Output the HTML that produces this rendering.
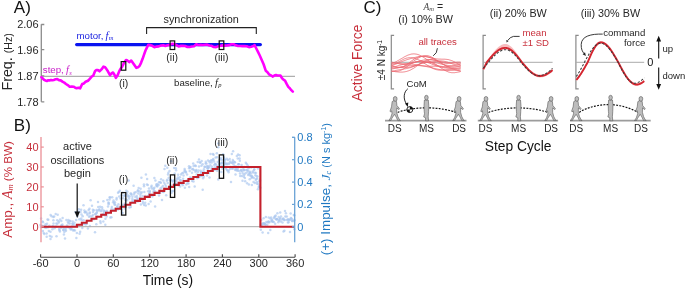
<!DOCTYPE html>
<html><head><meta charset="utf-8"><style>
html,body{margin:0;padding:0;background:#fff;width:685px;height:289px;overflow:hidden}
#w{width:685px;height:289px;will-change:transform}
svg{display:block}
text{font-family:"Liberation Sans",sans-serif}
</style></head><body><div id="w">
<svg width="685" height="289" viewBox="0 0 685 289">
<text x="13.8" y="12.95" font-size="17" fill="#111">A)</text>
<path d="M41.3,24.3 V101.8 M41.3,24.5 H44.3 M41.3,49.7 H44.3 M41.3,75.8 H44.3 M41.3,101.8 H44.3" stroke="#8c8c8c" stroke-width="1.3" fill="none"/>
<text x="38.6" y="28.3" font-size="11" fill="#262626" text-anchor="end">2.06</text>
<text x="38.6" y="53.5" font-size="11" fill="#262626" text-anchor="end">1.96</text>
<text x="38.6" y="79.6" font-size="11" fill="#262626" text-anchor="end">1.87</text>
<text x="38.6" y="105.6" font-size="11" fill="#262626" text-anchor="end">1.78</text>
<text transform="translate(11.8,90.6) rotate(-90)" font-size="14.3" fill="#262626">Freq. <tspan font-size="10.6">(Hz)</tspan></text>
<line x1="41.5" y1="76.3" x2="295" y2="76.3" stroke="#9a9a9a" stroke-width="1"/>
<line x1="76.6" y1="44.6" x2="260.4" y2="44.6" stroke="#0a14f0" stroke-width="3.1" stroke-linecap="round"/>
<text x="76.5" y="38.8" font-size="9.7" fill="#1a22e0">motor,<tspan font-family="Liberation Serif, serif" font-style="italic" font-size="10.5" dx="2.2">f</tspan><tspan font-family="Liberation Serif, serif" font-style="italic" font-size="6.5" dy="1.2" dx="0.3">m</tspan></text>
<text x="201.2" y="23.1" font-size="10.85" fill="#262626" text-anchor="middle">synchronization</text>
<path d="M146.6,34 V27.6 H256.3 V34" stroke="#222" stroke-width="1.1" fill="none"/>
<path d="M41.40,77.10 L42.75,78.50 L44.10,79.92 L45.50,80.53 L46.90,81.01 L48.30,80.18 L49.70,80.37 L51.10,80.08 L52.45,80.25 L53.80,79.95 L55.55,79.32 L57.30,79.10 L59.00,80.12 L60.70,80.38 L62.45,81.65 L64.20,82.54 L65.95,84.01 L67.70,85.10 L69.70,86.71 L71.80,86.55 L73.90,86.71 L75.25,87.78 L76.60,88.24 L78.35,87.74 L80.10,88.39 L82.20,84.05 L83.90,83.41 L85.60,81.74 L86.80,81.24 L88.00,80.74 L89.30,79.37 L90.60,77.93 L91.85,76.42 L93.10,75.90 L95.10,70.98 L96.30,70.15 L97.90,70.03 L99.50,71.28 L101.50,69.38 L103.40,66.68 L104.70,66.97 L106.00,68.38 L107.90,71.30 L110.00,75.03 L111.50,73.32 L113.00,72.51 L114.45,74.74 L115.90,77.85 L117.60,75.33 L119.60,70.37 L120.80,68.60 L122.00,66.91 L124.00,62.82 L126.00,60.07 L127.50,60.59 L129.20,62.16 L131.20,60.52 L133.50,63.69 L134.90,65.75 L136.30,67.85 L138.00,67.17 L139.50,66.04 L141.05,62.82 L142.60,58.84 L144.05,54.60 L145.50,50.50 L146.90,47.65 L148.30,44.80 L150.00,45.04 L152.20,45.81 L154.40,47.16 L156.60,46.61 L158.80,46.38 L161.00,45.58 L163.20,45.24 L165.40,45.93 L167.60,45.28 L169.80,44.90 L172.00,43.85 L174.20,44.00 L176.40,45.22 L178.60,46.45 L180.80,45.88 L183.00,45.68 L185.20,46.08 L187.40,46.92 L189.60,47.04 L191.80,46.59 L194.00,46.18 L196.20,44.35 L198.40,45.03 L200.60,44.92 L202.80,45.06 L205.00,44.78 L207.20,44.65 L209.40,45.47 L211.60,45.81 L213.80,47.06 L216.00,47.14 L218.20,46.20 L220.40,45.82 L222.60,45.36 L224.80,45.60 L227.00,45.50 L229.20,45.15 L231.40,44.19 L233.60,44.22 L235.80,45.36 L238.00,46.00 L240.20,45.95 L242.40,46.16 L244.60,46.12 L246.80,46.26 L249.00,47.10 L251.20,46.76 L253.40,46.12 L254.60,45.10 L256.30,48.50 L258.00,51.90 L259.65,55.25 L261.30,58.97 L263.60,64.27 L265.80,70.80 L267.50,72.21 L269.20,74.53 L270.90,75.31 L272.60,76.57 L274.30,75.60 L276.00,75.12 L277.47,75.51 L278.93,75.43 L280.40,75.52 L281.93,78.04 L283.47,79.67 L285.00,80.57 L286.65,83.91 L288.30,86.87 L289.80,88.25 L291.30,90.18 L292.80,91.60" stroke="#ff00ff" stroke-width="2.6" fill="none" stroke-linejoin="round" stroke-linecap="round"/>
<text x="42.8" y="73.3" font-size="9.7" fill="#c81ec8">step,<tspan font-family="Liberation Serif, serif" font-style="italic" font-size="10.5" dx="2.2">f</tspan><tspan font-family="Liberation Serif, serif" font-style="italic" font-size="6.5" dy="1.2" dx="0.3">s</tspan></text>
<text x="174" y="86.2" font-size="9.7" fill="#262626">baseline,<tspan font-family="Liberation Serif, serif" font-style="italic" font-size="10.5" dx="2.2">f</tspan><tspan font-family="Liberation Serif, serif" font-style="italic" font-size="6.5" dy="1.2" dx="0.3">p</tspan></text>
<rect x="121.2" y="61.6" width="4.6" height="8.6" fill="none" stroke="#111" stroke-width="1.2"/>
<rect x="170.1" y="40.9" width="4.6" height="8.6" fill="none" stroke="#111" stroke-width="1.2"/>
<rect x="219.2" y="40.9" width="4.6" height="8.6" fill="none" stroke="#111" stroke-width="1.2"/>
<text x="123.6" y="87.2" font-size="10.5" fill="#262626" text-anchor="middle">(i)</text>
<text x="172.2" y="61.2" font-size="10.5" fill="#262626" text-anchor="middle">(ii)</text>
<text x="221.5" y="61.2" font-size="10.5" fill="#262626" text-anchor="middle">(iii)</text>
<text x="13.8" y="130.7" font-size="17" fill="#111">B)</text>
<g fill="#a9c5ef" fill-opacity="0.66">
<circle cx="40.5" cy="225.1" r="1.25"/>
<circle cx="41.1" cy="218.6" r="1.25"/>
<circle cx="40.9" cy="227.0" r="1.25"/>
<circle cx="42.1" cy="227.0" r="1.25"/>
<circle cx="42.6" cy="225.8" r="1.25"/>
<circle cx="42.5" cy="221.5" r="1.25"/>
<circle cx="43.0" cy="222.3" r="1.25"/>
<circle cx="42.9" cy="231.0" r="1.25"/>
<circle cx="43.7" cy="233.0" r="1.25"/>
<circle cx="44.3" cy="234.0" r="1.25"/>
<circle cx="44.7" cy="226.5" r="1.25"/>
<circle cx="44.9" cy="227.4" r="1.25"/>
<circle cx="45.5" cy="226.0" r="1.25"/>
<circle cx="45.5" cy="224.3" r="1.25"/>
<circle cx="46.1" cy="227.8" r="1.25"/>
<circle cx="46.7" cy="236.8" r="1.25"/>
<circle cx="46.6" cy="233.5" r="1.25"/>
<circle cx="47.5" cy="219.4" r="1.25"/>
<circle cx="47.0" cy="223.8" r="1.25"/>
<circle cx="47.5" cy="227.3" r="1.25"/>
<circle cx="48.3" cy="219.8" r="1.25"/>
<circle cx="48.3" cy="226.9" r="1.25"/>
<circle cx="48.8" cy="231.1" r="1.25"/>
<circle cx="49.4" cy="225.8" r="1.25"/>
<circle cx="49.8" cy="236.0" r="1.25"/>
<circle cx="50.5" cy="231.7" r="1.25"/>
<circle cx="50.6" cy="215.0" r="1.25"/>
<circle cx="50.5" cy="239.0" r="1.25"/>
<circle cx="51.6" cy="216.3" r="1.25"/>
<circle cx="51.6" cy="236.7" r="1.25"/>
<circle cx="52.3" cy="226.5" r="1.25"/>
<circle cx="52.4" cy="229.3" r="1.25"/>
<circle cx="53.0" cy="226.0" r="1.25"/>
<circle cx="53.5" cy="223.6" r="1.25"/>
<circle cx="53.3" cy="217.1" r="1.25"/>
<circle cx="53.4" cy="220.3" r="1.25"/>
<circle cx="54.5" cy="228.2" r="1.25"/>
<circle cx="54.1" cy="216.4" r="1.25"/>
<circle cx="55.1" cy="226.9" r="1.25"/>
<circle cx="55.1" cy="226.7" r="1.25"/>
<circle cx="55.7" cy="214.1" r="1.25"/>
<circle cx="56.5" cy="236.2" r="1.25"/>
<circle cx="56.5" cy="226.4" r="1.25"/>
<circle cx="56.3" cy="223.5" r="1.25"/>
<circle cx="57.3" cy="223.7" r="1.25"/>
<circle cx="57.2" cy="220.2" r="1.25"/>
<circle cx="57.7" cy="214.8" r="1.25"/>
<circle cx="58.8" cy="222.6" r="1.25"/>
<circle cx="58.6" cy="221.3" r="1.25"/>
<circle cx="59.1" cy="228.9" r="1.25"/>
<circle cx="59.5" cy="230.2" r="1.25"/>
<circle cx="59.9" cy="231.5" r="1.25"/>
<circle cx="60.1" cy="219.4" r="1.25"/>
<circle cx="60.8" cy="228.0" r="1.25"/>
<circle cx="61.4" cy="225.2" r="1.25"/>
<circle cx="61.3" cy="220.9" r="1.25"/>
<circle cx="61.6" cy="226.4" r="1.25"/>
<circle cx="62.1" cy="225.8" r="1.25"/>
<circle cx="62.6" cy="217.9" r="1.25"/>
<circle cx="62.4" cy="224.6" r="1.25"/>
<circle cx="63.4" cy="229.9" r="1.25"/>
<circle cx="63.4" cy="230.1" r="1.25"/>
<circle cx="63.5" cy="228.0" r="1.25"/>
<circle cx="63.9" cy="234.4" r="1.25"/>
<circle cx="64.4" cy="232.0" r="1.25"/>
<circle cx="65.0" cy="238.4" r="1.25"/>
<circle cx="65.3" cy="229.7" r="1.25"/>
<circle cx="65.6" cy="228.3" r="1.25"/>
<circle cx="66.0" cy="230.7" r="1.25"/>
<circle cx="66.4" cy="220.1" r="1.25"/>
<circle cx="67.0" cy="225.4" r="1.25"/>
<circle cx="67.6" cy="226.9" r="1.25"/>
<circle cx="68.0" cy="227.0" r="1.25"/>
<circle cx="67.8" cy="221.9" r="1.25"/>
<circle cx="68.6" cy="223.3" r="1.25"/>
<circle cx="68.4" cy="220.1" r="1.25"/>
<circle cx="69.5" cy="227.8" r="1.25"/>
<circle cx="69.5" cy="221.1" r="1.25"/>
<circle cx="69.8" cy="223.5" r="1.25"/>
<circle cx="70.5" cy="228.3" r="1.25"/>
<circle cx="70.4" cy="221.0" r="1.25"/>
<circle cx="70.7" cy="229.6" r="1.25"/>
<circle cx="71.8" cy="229.2" r="1.25"/>
<circle cx="72.2" cy="226.3" r="1.25"/>
<circle cx="72.5" cy="223.8" r="1.25"/>
<circle cx="72.7" cy="221.5" r="1.25"/>
<circle cx="72.6" cy="223.8" r="1.25"/>
<circle cx="73.1" cy="230.4" r="1.25"/>
<circle cx="73.6" cy="224.4" r="1.25"/>
<circle cx="74.0" cy="229.9" r="1.25"/>
<circle cx="74.9" cy="230.6" r="1.25"/>
<circle cx="74.5" cy="222.8" r="1.25"/>
<circle cx="75.6" cy="212.2" r="1.25"/>
<circle cx="76.1" cy="225.2" r="1.25"/>
<circle cx="76.4" cy="238.1" r="1.25"/>
<circle cx="76.1" cy="220.1" r="1.25"/>
<circle cx="76.9" cy="225.9" r="1.25"/>
<circle cx="76.9" cy="233.0" r="1.25"/>
<circle cx="77.2" cy="212.5" r="1.25"/>
<circle cx="77.4" cy="216.2" r="1.25"/>
<circle cx="78.6" cy="211.8" r="1.25"/>
<circle cx="78.7" cy="226.1" r="1.25"/>
<circle cx="78.8" cy="209.2" r="1.25"/>
<circle cx="79.4" cy="219.3" r="1.25"/>
<circle cx="79.6" cy="233.8" r="1.25"/>
<circle cx="80.5" cy="212.1" r="1.25"/>
<circle cx="80.2" cy="231.8" r="1.25"/>
<circle cx="81.2" cy="218.6" r="1.25"/>
<circle cx="81.5" cy="214.6" r="1.25"/>
<circle cx="81.1" cy="209.8" r="1.25"/>
<circle cx="81.7" cy="220.3" r="1.25"/>
<circle cx="82.3" cy="227.9" r="1.25"/>
<circle cx="82.3" cy="224.7" r="1.25"/>
<circle cx="82.7" cy="216.3" r="1.25"/>
<circle cx="83.5" cy="205.3" r="1.25"/>
<circle cx="83.7" cy="220.3" r="1.25"/>
<circle cx="84.1" cy="224.0" r="1.25"/>
<circle cx="84.4" cy="210.5" r="1.25"/>
<circle cx="84.9" cy="212.2" r="1.25"/>
<circle cx="85.0" cy="212.3" r="1.25"/>
<circle cx="85.6" cy="224.6" r="1.25"/>
<circle cx="86.2" cy="211.7" r="1.25"/>
<circle cx="86.7" cy="224.1" r="1.25"/>
<circle cx="87.0" cy="213.6" r="1.25"/>
<circle cx="87.4" cy="221.1" r="1.25"/>
<circle cx="87.5" cy="215.0" r="1.25"/>
<circle cx="87.9" cy="228.6" r="1.25"/>
<circle cx="88.6" cy="210.1" r="1.25"/>
<circle cx="89.0" cy="216.8" r="1.25"/>
<circle cx="89.5" cy="208.8" r="1.25"/>
<circle cx="89.5" cy="213.6" r="1.25"/>
<circle cx="89.9" cy="225.9" r="1.25"/>
<circle cx="89.8" cy="212.5" r="1.25"/>
<circle cx="90.2" cy="216.2" r="1.25"/>
<circle cx="90.6" cy="200.3" r="1.25"/>
<circle cx="91.5" cy="219.1" r="1.25"/>
<circle cx="92.0" cy="205.8" r="1.25"/>
<circle cx="92.1" cy="216.3" r="1.25"/>
<circle cx="92.9" cy="215.0" r="1.25"/>
<circle cx="92.9" cy="209.7" r="1.25"/>
<circle cx="93.0" cy="211.9" r="1.25"/>
<circle cx="93.9" cy="218.7" r="1.25"/>
<circle cx="93.8" cy="219.3" r="1.25"/>
<circle cx="93.9" cy="210.3" r="1.25"/>
<circle cx="95.0" cy="232.3" r="1.25"/>
<circle cx="95.3" cy="214.3" r="1.25"/>
<circle cx="95.5" cy="213.9" r="1.25"/>
<circle cx="96.3" cy="224.3" r="1.25"/>
<circle cx="96.7" cy="212.5" r="1.25"/>
<circle cx="96.6" cy="209.9" r="1.25"/>
<circle cx="96.7" cy="213.1" r="1.25"/>
<circle cx="97.2" cy="216.5" r="1.25"/>
<circle cx="97.5" cy="211.1" r="1.25"/>
<circle cx="98.0" cy="202.1" r="1.25"/>
<circle cx="98.2" cy="206.9" r="1.25"/>
<circle cx="98.8" cy="210.1" r="1.25"/>
<circle cx="99.5" cy="209.3" r="1.25"/>
<circle cx="100.1" cy="206.7" r="1.25"/>
<circle cx="100.3" cy="221.3" r="1.25"/>
<circle cx="100.4" cy="211.1" r="1.25"/>
<circle cx="100.6" cy="222.9" r="1.25"/>
<circle cx="101.6" cy="211.0" r="1.25"/>
<circle cx="101.7" cy="215.0" r="1.25"/>
<circle cx="102.3" cy="209.3" r="1.25"/>
<circle cx="102.0" cy="207.3" r="1.25"/>
<circle cx="102.8" cy="214.3" r="1.25"/>
<circle cx="103.4" cy="201.2" r="1.25"/>
<circle cx="103.3" cy="221.4" r="1.25"/>
<circle cx="104.1" cy="210.7" r="1.25"/>
<circle cx="104.0" cy="213.1" r="1.25"/>
<circle cx="104.4" cy="211.3" r="1.25"/>
<circle cx="104.6" cy="215.2" r="1.25"/>
<circle cx="105.3" cy="224.7" r="1.25"/>
<circle cx="105.4" cy="218.8" r="1.25"/>
<circle cx="106.4" cy="212.0" r="1.25"/>
<circle cx="106.8" cy="211.1" r="1.25"/>
<circle cx="106.6" cy="216.4" r="1.25"/>
<circle cx="107.3" cy="200.1" r="1.25"/>
<circle cx="108.0" cy="206.5" r="1.25"/>
<circle cx="107.9" cy="213.2" r="1.25"/>
<circle cx="108.5" cy="202.4" r="1.25"/>
<circle cx="108.7" cy="203.2" r="1.25"/>
<circle cx="108.7" cy="204.3" r="1.25"/>
<circle cx="109.5" cy="199.5" r="1.25"/>
<circle cx="109.6" cy="197.2" r="1.25"/>
<circle cx="110.2" cy="197.5" r="1.25"/>
<circle cx="110.3" cy="217.4" r="1.25"/>
<circle cx="110.5" cy="211.6" r="1.25"/>
<circle cx="111.5" cy="208.7" r="1.25"/>
<circle cx="111.4" cy="217.3" r="1.25"/>
<circle cx="111.8" cy="206.9" r="1.25"/>
<circle cx="112.2" cy="197.2" r="1.25"/>
<circle cx="113.0" cy="209.7" r="1.25"/>
<circle cx="113.5" cy="200.4" r="1.25"/>
<circle cx="113.1" cy="202.3" r="1.25"/>
<circle cx="114.1" cy="202.9" r="1.25"/>
<circle cx="114.5" cy="204.6" r="1.25"/>
<circle cx="114.9" cy="202.3" r="1.25"/>
<circle cx="114.7" cy="209.5" r="1.25"/>
<circle cx="115.5" cy="208.4" r="1.25"/>
<circle cx="115.3" cy="204.8" r="1.25"/>
<circle cx="116.5" cy="199.5" r="1.25"/>
<circle cx="116.6" cy="198.1" r="1.25"/>
<circle cx="117.4" cy="206.4" r="1.25"/>
<circle cx="117.3" cy="206.5" r="1.25"/>
<circle cx="117.9" cy="209.5" r="1.25"/>
<circle cx="118.0" cy="192.8" r="1.25"/>
<circle cx="118.4" cy="204.2" r="1.25"/>
<circle cx="118.9" cy="192.0" r="1.25"/>
<circle cx="119.2" cy="196.6" r="1.25"/>
<circle cx="119.8" cy="190.7" r="1.25"/>
<circle cx="119.5" cy="207.9" r="1.25"/>
<circle cx="120.3" cy="207.4" r="1.25"/>
<circle cx="120.5" cy="198.6" r="1.25"/>
<circle cx="121.4" cy="195.3" r="1.25"/>
<circle cx="121.8" cy="209.8" r="1.25"/>
<circle cx="122.1" cy="204.7" r="1.25"/>
<circle cx="122.5" cy="213.1" r="1.25"/>
<circle cx="122.1" cy="212.7" r="1.25"/>
<circle cx="122.6" cy="192.7" r="1.25"/>
<circle cx="123.3" cy="198.2" r="1.25"/>
<circle cx="123.8" cy="195.7" r="1.25"/>
<circle cx="123.9" cy="204.9" r="1.25"/>
<circle cx="124.8" cy="195.3" r="1.25"/>
<circle cx="124.8" cy="203.5" r="1.25"/>
<circle cx="124.9" cy="208.6" r="1.25"/>
<circle cx="125.2" cy="195.8" r="1.25"/>
<circle cx="125.6" cy="200.3" r="1.25"/>
<circle cx="126.0" cy="199.3" r="1.25"/>
<circle cx="126.3" cy="190.8" r="1.25"/>
<circle cx="126.9" cy="193.7" r="1.25"/>
<circle cx="127.0" cy="200.2" r="1.25"/>
<circle cx="127.5" cy="191.7" r="1.25"/>
<circle cx="128.1" cy="196.5" r="1.25"/>
<circle cx="128.2" cy="195.6" r="1.25"/>
<circle cx="128.7" cy="180.5" r="1.25"/>
<circle cx="129.1" cy="198.6" r="1.25"/>
<circle cx="129.4" cy="207.6" r="1.25"/>
<circle cx="129.6" cy="196.6" r="1.25"/>
<circle cx="130.9" cy="207.0" r="1.25"/>
<circle cx="130.5" cy="193.5" r="1.25"/>
<circle cx="131.3" cy="193.7" r="1.25"/>
<circle cx="131.5" cy="194.7" r="1.25"/>
<circle cx="132.3" cy="201.0" r="1.25"/>
<circle cx="132.4" cy="196.7" r="1.25"/>
<circle cx="132.3" cy="199.0" r="1.25"/>
<circle cx="132.9" cy="201.9" r="1.25"/>
<circle cx="133.6" cy="185.8" r="1.25"/>
<circle cx="134.0" cy="194.6" r="1.25"/>
<circle cx="134.2" cy="200.2" r="1.25"/>
<circle cx="134.3" cy="192.7" r="1.25"/>
<circle cx="134.9" cy="201.3" r="1.25"/>
<circle cx="135.4" cy="196.9" r="1.25"/>
<circle cx="135.6" cy="192.3" r="1.25"/>
<circle cx="135.6" cy="200.2" r="1.25"/>
<circle cx="136.7" cy="196.1" r="1.25"/>
<circle cx="137.2" cy="197.7" r="1.25"/>
<circle cx="137.6" cy="199.1" r="1.25"/>
<circle cx="137.8" cy="191.3" r="1.25"/>
<circle cx="137.8" cy="201.6" r="1.25"/>
<circle cx="137.9" cy="190.3" r="1.25"/>
<circle cx="138.3" cy="193.4" r="1.25"/>
<circle cx="138.6" cy="187.9" r="1.25"/>
<circle cx="139.6" cy="191.6" r="1.25"/>
<circle cx="140.3" cy="197.2" r="1.25"/>
<circle cx="140.3" cy="194.9" r="1.25"/>
<circle cx="140.9" cy="204.6" r="1.25"/>
<circle cx="140.6" cy="188.7" r="1.25"/>
<circle cx="140.9" cy="193.2" r="1.25"/>
<circle cx="141.4" cy="177.8" r="1.25"/>
<circle cx="141.8" cy="192.2" r="1.25"/>
<circle cx="142.6" cy="196.1" r="1.25"/>
<circle cx="142.7" cy="201.5" r="1.25"/>
<circle cx="143.1" cy="203.2" r="1.25"/>
<circle cx="143.9" cy="184.6" r="1.25"/>
<circle cx="144.0" cy="186.2" r="1.25"/>
<circle cx="144.2" cy="204.9" r="1.25"/>
<circle cx="144.3" cy="192.0" r="1.25"/>
<circle cx="145.2" cy="202.7" r="1.25"/>
<circle cx="145.2" cy="195.9" r="1.25"/>
<circle cx="145.8" cy="205.5" r="1.25"/>
<circle cx="145.9" cy="174.5" r="1.25"/>
<circle cx="146.9" cy="184.5" r="1.25"/>
<circle cx="147.1" cy="179.0" r="1.25"/>
<circle cx="147.8" cy="184.9" r="1.25"/>
<circle cx="148.2" cy="195.9" r="1.25"/>
<circle cx="148.6" cy="203.9" r="1.25"/>
<circle cx="148.2" cy="191.2" r="1.25"/>
<circle cx="149.0" cy="188.5" r="1.25"/>
<circle cx="149.2" cy="194.1" r="1.25"/>
<circle cx="149.4" cy="193.6" r="1.25"/>
<circle cx="149.8" cy="191.9" r="1.25"/>
<circle cx="149.9" cy="190.9" r="1.25"/>
<circle cx="150.6" cy="201.5" r="1.25"/>
<circle cx="151.3" cy="187.0" r="1.25"/>
<circle cx="151.9" cy="188.6" r="1.25"/>
<circle cx="151.6" cy="185.8" r="1.25"/>
<circle cx="152.2" cy="194.9" r="1.25"/>
<circle cx="152.4" cy="196.5" r="1.25"/>
<circle cx="153.3" cy="192.0" r="1.25"/>
<circle cx="153.6" cy="188.4" r="1.25"/>
<circle cx="153.7" cy="189.9" r="1.25"/>
<circle cx="154.4" cy="187.8" r="1.25"/>
<circle cx="154.9" cy="191.3" r="1.25"/>
<circle cx="154.4" cy="178.0" r="1.25"/>
<circle cx="155.1" cy="206.6" r="1.25"/>
<circle cx="155.4" cy="180.4" r="1.25"/>
<circle cx="156.3" cy="185.7" r="1.25"/>
<circle cx="156.5" cy="184.2" r="1.25"/>
<circle cx="157.1" cy="185.8" r="1.25"/>
<circle cx="157.3" cy="186.6" r="1.25"/>
<circle cx="157.5" cy="193.1" r="1.25"/>
<circle cx="157.5" cy="184.3" r="1.25"/>
<circle cx="158.6" cy="184.9" r="1.25"/>
<circle cx="159.0" cy="182.2" r="1.25"/>
<circle cx="159.1" cy="192.6" r="1.25"/>
<circle cx="159.0" cy="195.4" r="1.25"/>
<circle cx="160.2" cy="182.3" r="1.25"/>
<circle cx="160.1" cy="193.0" r="1.25"/>
<circle cx="160.4" cy="188.4" r="1.25"/>
<circle cx="160.9" cy="182.7" r="1.25"/>
<circle cx="161.6" cy="187.4" r="1.25"/>
<circle cx="161.1" cy="179.2" r="1.25"/>
<circle cx="162.0" cy="200.1" r="1.25"/>
<circle cx="162.8" cy="191.8" r="1.25"/>
<circle cx="162.9" cy="186.0" r="1.25"/>
<circle cx="163.6" cy="192.0" r="1.25"/>
<circle cx="163.2" cy="180.6" r="1.25"/>
<circle cx="164.2" cy="182.7" r="1.25"/>
<circle cx="164.0" cy="188.4" r="1.25"/>
<circle cx="164.5" cy="169.1" r="1.25"/>
<circle cx="164.6" cy="189.4" r="1.25"/>
<circle cx="165.1" cy="184.5" r="1.25"/>
<circle cx="165.3" cy="165.7" r="1.25"/>
<circle cx="166.2" cy="195.3" r="1.25"/>
<circle cx="166.0" cy="186.2" r="1.25"/>
<circle cx="166.8" cy="180.7" r="1.25"/>
<circle cx="167.3" cy="167.7" r="1.25"/>
<circle cx="167.3" cy="179.7" r="1.25"/>
<circle cx="167.7" cy="183.0" r="1.25"/>
<circle cx="168.0" cy="174.4" r="1.25"/>
<circle cx="168.4" cy="172.8" r="1.25"/>
<circle cx="168.7" cy="177.8" r="1.25"/>
<circle cx="169.5" cy="170.9" r="1.25"/>
<circle cx="170.3" cy="184.8" r="1.25"/>
<circle cx="169.9" cy="180.3" r="1.25"/>
<circle cx="171.0" cy="180.3" r="1.25"/>
<circle cx="170.7" cy="179.7" r="1.25"/>
<circle cx="171.1" cy="161.3" r="1.25"/>
<circle cx="172.2" cy="190.9" r="1.25"/>
<circle cx="171.6" cy="192.8" r="1.25"/>
<circle cx="172.7" cy="181.5" r="1.25"/>
<circle cx="172.9" cy="180.7" r="1.25"/>
<circle cx="173.3" cy="190.9" r="1.25"/>
<circle cx="174.1" cy="180.2" r="1.25"/>
<circle cx="173.7" cy="184.3" r="1.25"/>
<circle cx="174.1" cy="168.0" r="1.25"/>
<circle cx="174.3" cy="183.4" r="1.25"/>
<circle cx="174.7" cy="173.6" r="1.25"/>
<circle cx="175.8" cy="168.2" r="1.25"/>
<circle cx="176.1" cy="170.3" r="1.25"/>
<circle cx="176.3" cy="181.0" r="1.25"/>
<circle cx="176.4" cy="184.0" r="1.25"/>
<circle cx="176.9" cy="179.1" r="1.25"/>
<circle cx="177.9" cy="183.1" r="1.25"/>
<circle cx="178.1" cy="174.7" r="1.25"/>
<circle cx="177.9" cy="177.6" r="1.25"/>
<circle cx="178.5" cy="185.2" r="1.25"/>
<circle cx="178.7" cy="179.1" r="1.25"/>
<circle cx="179.2" cy="184.5" r="1.25"/>
<circle cx="180.1" cy="186.6" r="1.25"/>
<circle cx="179.9" cy="177.3" r="1.25"/>
<circle cx="180.7" cy="180.3" r="1.25"/>
<circle cx="180.3" cy="180.2" r="1.25"/>
<circle cx="181.0" cy="174.4" r="1.25"/>
<circle cx="181.6" cy="183.7" r="1.25"/>
<circle cx="182.1" cy="173.2" r="1.25"/>
<circle cx="182.1" cy="183.2" r="1.25"/>
<circle cx="182.8" cy="185.2" r="1.25"/>
<circle cx="183.1" cy="178.7" r="1.25"/>
<circle cx="183.5" cy="175.6" r="1.25"/>
<circle cx="183.3" cy="172.7" r="1.25"/>
<circle cx="184.6" cy="168.9" r="1.25"/>
<circle cx="184.7" cy="171.5" r="1.25"/>
<circle cx="184.8" cy="170.4" r="1.25"/>
<circle cx="184.9" cy="187.7" r="1.25"/>
<circle cx="186.0" cy="171.7" r="1.25"/>
<circle cx="185.7" cy="180.9" r="1.25"/>
<circle cx="185.9" cy="172.4" r="1.25"/>
<circle cx="186.3" cy="184.6" r="1.25"/>
<circle cx="187.0" cy="174.4" r="1.25"/>
<circle cx="187.4" cy="180.2" r="1.25"/>
<circle cx="187.5" cy="183.3" r="1.25"/>
<circle cx="188.5" cy="183.6" r="1.25"/>
<circle cx="189.1" cy="168.2" r="1.25"/>
<circle cx="189.0" cy="166.3" r="1.25"/>
<circle cx="189.2" cy="187.0" r="1.25"/>
<circle cx="189.9" cy="167.8" r="1.25"/>
<circle cx="189.7" cy="171.1" r="1.25"/>
<circle cx="190.0" cy="177.5" r="1.25"/>
<circle cx="190.5" cy="167.0" r="1.25"/>
<circle cx="191.2" cy="177.7" r="1.25"/>
<circle cx="192.1" cy="169.3" r="1.25"/>
<circle cx="192.1" cy="181.0" r="1.25"/>
<circle cx="192.0" cy="172.8" r="1.25"/>
<circle cx="192.9" cy="169.1" r="1.25"/>
<circle cx="193.5" cy="181.5" r="1.25"/>
<circle cx="193.2" cy="163.4" r="1.25"/>
<circle cx="193.6" cy="165.9" r="1.25"/>
<circle cx="194.0" cy="169.9" r="1.25"/>
<circle cx="195.1" cy="165.5" r="1.25"/>
<circle cx="194.7" cy="186.6" r="1.25"/>
<circle cx="195.3" cy="171.8" r="1.25"/>
<circle cx="196.1" cy="170.8" r="1.25"/>
<circle cx="195.8" cy="166.1" r="1.25"/>
<circle cx="196.3" cy="170.1" r="1.25"/>
<circle cx="196.6" cy="174.6" r="1.25"/>
<circle cx="197.3" cy="178.2" r="1.25"/>
<circle cx="197.8" cy="172.2" r="1.25"/>
<circle cx="197.7" cy="162.1" r="1.25"/>
<circle cx="198.5" cy="170.5" r="1.25"/>
<circle cx="198.6" cy="177.2" r="1.25"/>
<circle cx="199.0" cy="159.4" r="1.25"/>
<circle cx="199.0" cy="166.4" r="1.25"/>
<circle cx="199.9" cy="162.3" r="1.25"/>
<circle cx="199.7" cy="176.6" r="1.25"/>
<circle cx="200.4" cy="162.8" r="1.25"/>
<circle cx="200.7" cy="170.7" r="1.25"/>
<circle cx="201.1" cy="173.3" r="1.25"/>
<circle cx="201.1" cy="172.1" r="1.25"/>
<circle cx="201.4" cy="165.7" r="1.25"/>
<circle cx="201.3" cy="176.0" r="1.25"/>
<circle cx="201.7" cy="161.1" r="1.25"/>
<circle cx="202.6" cy="164.2" r="1.25"/>
<circle cx="202.7" cy="189.8" r="1.25"/>
<circle cx="202.3" cy="175.6" r="1.25"/>
<circle cx="203.0" cy="173.2" r="1.25"/>
<circle cx="203.1" cy="178.3" r="1.25"/>
<circle cx="203.3" cy="171.3" r="1.25"/>
<circle cx="203.8" cy="176.7" r="1.25"/>
<circle cx="203.9" cy="169.2" r="1.25"/>
<circle cx="204.6" cy="172.6" r="1.25"/>
<circle cx="204.5" cy="166.7" r="1.25"/>
<circle cx="204.8" cy="167.1" r="1.25"/>
<circle cx="205.8" cy="161.8" r="1.25"/>
<circle cx="205.6" cy="163.6" r="1.25"/>
<circle cx="206.4" cy="163.6" r="1.25"/>
<circle cx="206.7" cy="166.3" r="1.25"/>
<circle cx="207.0" cy="175.6" r="1.25"/>
<circle cx="206.9" cy="167.5" r="1.25"/>
<circle cx="207.6" cy="173.0" r="1.25"/>
<circle cx="207.7" cy="168.8" r="1.25"/>
<circle cx="208.0" cy="166.0" r="1.25"/>
<circle cx="208.0" cy="168.3" r="1.25"/>
<circle cx="208.0" cy="160.6" r="1.25"/>
<circle cx="208.4" cy="167.5" r="1.25"/>
<circle cx="209.1" cy="173.0" r="1.25"/>
<circle cx="209.4" cy="166.9" r="1.25"/>
<circle cx="209.5" cy="177.4" r="1.25"/>
<circle cx="209.6" cy="161.2" r="1.25"/>
<circle cx="209.8" cy="162.6" r="1.25"/>
<circle cx="210.3" cy="165.3" r="1.25"/>
<circle cx="210.5" cy="154.1" r="1.25"/>
<circle cx="211.2" cy="160.2" r="1.25"/>
<circle cx="211.7" cy="162.6" r="1.25"/>
<circle cx="211.5" cy="168.7" r="1.25"/>
<circle cx="212.0" cy="166.8" r="1.25"/>
<circle cx="211.7" cy="170.3" r="1.25"/>
<circle cx="212.0" cy="160.4" r="1.25"/>
<circle cx="212.9" cy="154.1" r="1.25"/>
<circle cx="213.1" cy="170.2" r="1.25"/>
<circle cx="213.4" cy="159.8" r="1.25"/>
<circle cx="213.2" cy="159.1" r="1.25"/>
<circle cx="213.6" cy="154.8" r="1.25"/>
<circle cx="214.0" cy="161.5" r="1.25"/>
<circle cx="214.3" cy="165.1" r="1.25"/>
<circle cx="214.6" cy="167.5" r="1.25"/>
<circle cx="214.8" cy="169.7" r="1.25"/>
<circle cx="215.1" cy="163.7" r="1.25"/>
<circle cx="215.6" cy="157.6" r="1.25"/>
<circle cx="215.7" cy="164.3" r="1.25"/>
<circle cx="216.2" cy="167.7" r="1.25"/>
<circle cx="216.6" cy="165.6" r="1.25"/>
<circle cx="216.8" cy="153.2" r="1.25"/>
<circle cx="217.0" cy="157.2" r="1.25"/>
<circle cx="217.7" cy="162.0" r="1.25"/>
<circle cx="217.2" cy="170.7" r="1.25"/>
<circle cx="217.6" cy="167.1" r="1.25"/>
<circle cx="218.2" cy="179.6" r="1.25"/>
<circle cx="218.2" cy="143.5" r="1.25"/>
<circle cx="218.3" cy="147.2" r="1.25"/>
<circle cx="219.4" cy="165.7" r="1.25"/>
<circle cx="219.2" cy="160.8" r="1.25"/>
<circle cx="219.4" cy="163.7" r="1.25"/>
<circle cx="219.5" cy="163.7" r="1.25"/>
<circle cx="219.8" cy="159.2" r="1.25"/>
<circle cx="220.8" cy="158.3" r="1.25"/>
<circle cx="221.1" cy="163.5" r="1.25"/>
<circle cx="221.3" cy="172.0" r="1.25"/>
<circle cx="221.8" cy="163.0" r="1.25"/>
<circle cx="222.1" cy="160.0" r="1.25"/>
<circle cx="222.2" cy="162.4" r="1.25"/>
<circle cx="222.4" cy="168.7" r="1.25"/>
<circle cx="222.1" cy="165.9" r="1.25"/>
<circle cx="222.6" cy="167.1" r="1.25"/>
<circle cx="223.1" cy="154.2" r="1.25"/>
<circle cx="223.6" cy="163.9" r="1.25"/>
<circle cx="224.0" cy="158.0" r="1.25"/>
<circle cx="223.7" cy="157.0" r="1.25"/>
<circle cx="224.1" cy="165.7" r="1.25"/>
<circle cx="224.7" cy="159.6" r="1.25"/>
<circle cx="225.0" cy="162.2" r="1.25"/>
<circle cx="224.8" cy="163.7" r="1.25"/>
<circle cx="225.1" cy="160.1" r="1.25"/>
<circle cx="226.1" cy="168.7" r="1.25"/>
<circle cx="226.1" cy="164.1" r="1.25"/>
<circle cx="225.9" cy="167.6" r="1.25"/>
<circle cx="226.8" cy="158.7" r="1.25"/>
<circle cx="227.1" cy="164.2" r="1.25"/>
<circle cx="227.0" cy="170.1" r="1.25"/>
<circle cx="227.2" cy="163.5" r="1.25"/>
<circle cx="227.9" cy="160.1" r="1.25"/>
<circle cx="227.7" cy="170.7" r="1.25"/>
<circle cx="228.6" cy="172.3" r="1.25"/>
<circle cx="228.7" cy="170.6" r="1.25"/>
<circle cx="228.9" cy="163.9" r="1.25"/>
<circle cx="229.4" cy="162.9" r="1.25"/>
<circle cx="229.7" cy="159.0" r="1.25"/>
<circle cx="230.2" cy="161.5" r="1.25"/>
<circle cx="230.4" cy="167.1" r="1.25"/>
<circle cx="230.0" cy="169.1" r="1.25"/>
<circle cx="231.0" cy="181.9" r="1.25"/>
<circle cx="231.1" cy="162.8" r="1.25"/>
<circle cx="231.7" cy="167.2" r="1.25"/>
<circle cx="232.0" cy="168.7" r="1.25"/>
<circle cx="231.8" cy="153.9" r="1.25"/>
<circle cx="232.5" cy="163.0" r="1.25"/>
<circle cx="232.4" cy="162.4" r="1.25"/>
<circle cx="233.2" cy="168.5" r="1.25"/>
<circle cx="232.8" cy="159.9" r="1.25"/>
<circle cx="233.1" cy="151.2" r="1.25"/>
<circle cx="233.5" cy="164.4" r="1.25"/>
<circle cx="233.5" cy="161.3" r="1.25"/>
<circle cx="234.6" cy="167.1" r="1.25"/>
<circle cx="234.9" cy="166.3" r="1.25"/>
<circle cx="234.5" cy="162.2" r="1.25"/>
<circle cx="234.9" cy="162.2" r="1.25"/>
<circle cx="235.1" cy="170.0" r="1.25"/>
<circle cx="235.5" cy="174.5" r="1.25"/>
<circle cx="235.9" cy="169.1" r="1.25"/>
<circle cx="236.6" cy="170.6" r="1.25"/>
<circle cx="236.8" cy="156.1" r="1.25"/>
<circle cx="236.5" cy="166.4" r="1.25"/>
<circle cx="236.8" cy="169.6" r="1.25"/>
<circle cx="237.8" cy="158.6" r="1.25"/>
<circle cx="238.1" cy="154.4" r="1.25"/>
<circle cx="237.9" cy="170.7" r="1.25"/>
<circle cx="237.8" cy="169.1" r="1.25"/>
<circle cx="238.3" cy="164.2" r="1.25"/>
<circle cx="239.3" cy="171.0" r="1.25"/>
<circle cx="238.9" cy="164.2" r="1.25"/>
<circle cx="239.6" cy="155.3" r="1.25"/>
<circle cx="239.6" cy="158.4" r="1.25"/>
<circle cx="239.8" cy="160.7" r="1.25"/>
<circle cx="240.0" cy="173.6" r="1.25"/>
<circle cx="240.2" cy="175.9" r="1.25"/>
<circle cx="241.2" cy="170.5" r="1.25"/>
<circle cx="241.0" cy="170.0" r="1.25"/>
<circle cx="241.1" cy="166.9" r="1.25"/>
<circle cx="241.6" cy="164.9" r="1.25"/>
<circle cx="241.9" cy="175.9" r="1.25"/>
<circle cx="242.1" cy="171.6" r="1.25"/>
<circle cx="242.5" cy="180.7" r="1.25"/>
<circle cx="243.2" cy="169.3" r="1.25"/>
<circle cx="242.9" cy="173.5" r="1.25"/>
<circle cx="243.8" cy="170.2" r="1.25"/>
<circle cx="243.8" cy="176.7" r="1.25"/>
<circle cx="244.4" cy="170.1" r="1.25"/>
<circle cx="244.2" cy="175.1" r="1.25"/>
<circle cx="244.2" cy="167.1" r="1.25"/>
<circle cx="244.9" cy="178.1" r="1.25"/>
<circle cx="245.2" cy="173.4" r="1.25"/>
<circle cx="245.2" cy="181.2" r="1.25"/>
<circle cx="246.3" cy="170.1" r="1.25"/>
<circle cx="245.8" cy="162.7" r="1.25"/>
<circle cx="246.7" cy="164.0" r="1.25"/>
<circle cx="246.7" cy="172.5" r="1.25"/>
<circle cx="247.3" cy="170.0" r="1.25"/>
<circle cx="247.7" cy="165.5" r="1.25"/>
<circle cx="247.1" cy="183.2" r="1.25"/>
<circle cx="248.1" cy="175.1" r="1.25"/>
<circle cx="248.1" cy="171.1" r="1.25"/>
<circle cx="248.9" cy="173.7" r="1.25"/>
<circle cx="248.9" cy="184.4" r="1.25"/>
<circle cx="248.6" cy="168.2" r="1.25"/>
<circle cx="249.7" cy="179.3" r="1.25"/>
<circle cx="249.9" cy="171.8" r="1.25"/>
<circle cx="249.7" cy="172.8" r="1.25"/>
<circle cx="249.9" cy="175.2" r="1.25"/>
<circle cx="250.7" cy="175.8" r="1.25"/>
<circle cx="251.2" cy="167.6" r="1.25"/>
<circle cx="250.8" cy="173.2" r="1.25"/>
<circle cx="251.5" cy="177.9" r="1.25"/>
<circle cx="251.9" cy="185.0" r="1.25"/>
<circle cx="251.6" cy="175.8" r="1.25"/>
<circle cx="252.2" cy="176.7" r="1.25"/>
<circle cx="252.6" cy="171.6" r="1.25"/>
<circle cx="252.4" cy="176.9" r="1.25"/>
<circle cx="253.1" cy="172.4" r="1.25"/>
<circle cx="253.5" cy="181.9" r="1.25"/>
<circle cx="254.0" cy="170.1" r="1.25"/>
<circle cx="254.3" cy="169.3" r="1.25"/>
<circle cx="253.9" cy="177.9" r="1.25"/>
<circle cx="254.9" cy="172.8" r="1.25"/>
<circle cx="254.8" cy="183.0" r="1.25"/>
<circle cx="255.3" cy="175.3" r="1.25"/>
<circle cx="255.7" cy="180.1" r="1.25"/>
<circle cx="256.0" cy="172.9" r="1.25"/>
<circle cx="256.4" cy="178.9" r="1.25"/>
<circle cx="256.5" cy="176.1" r="1.25"/>
<circle cx="257.0" cy="183.8" r="1.25"/>
<circle cx="256.8" cy="182.3" r="1.25"/>
<circle cx="257.0" cy="178.4" r="1.25"/>
<circle cx="257.5" cy="176.5" r="1.25"/>
<circle cx="257.9" cy="189.2" r="1.25"/>
<circle cx="258.0" cy="168.4" r="1.25"/>
<circle cx="258.4" cy="184.3" r="1.25"/>
<circle cx="258.6" cy="187.1" r="1.25"/>
<circle cx="259.2" cy="187.3" r="1.25"/>
<circle cx="258.9" cy="181.5" r="1.25"/>
<circle cx="259.8" cy="179.6" r="1.25"/>
<circle cx="259.3" cy="185.9" r="1.25"/>
<circle cx="260.3" cy="187.7" r="1.25"/>
<circle cx="260.1" cy="180.7" r="1.25"/>
<circle cx="260.7" cy="225.1" r="1.25"/>
<circle cx="260.8" cy="229.7" r="1.25"/>
<circle cx="261.3" cy="219.9" r="1.25"/>
<circle cx="262.2" cy="223.8" r="1.25"/>
<circle cx="262.3" cy="225.1" r="1.25"/>
<circle cx="262.6" cy="232.5" r="1.25"/>
<circle cx="263.2" cy="223.2" r="1.25"/>
<circle cx="263.6" cy="218.3" r="1.25"/>
<circle cx="263.9" cy="224.0" r="1.25"/>
<circle cx="264.3" cy="223.5" r="1.25"/>
<circle cx="264.5" cy="223.5" r="1.25"/>
<circle cx="265.4" cy="224.8" r="1.25"/>
<circle cx="265.3" cy="224.3" r="1.25"/>
<circle cx="265.9" cy="216.9" r="1.25"/>
<circle cx="266.3" cy="222.0" r="1.25"/>
<circle cx="267.3" cy="224.7" r="1.25"/>
<circle cx="267.6" cy="222.2" r="1.25"/>
<circle cx="268.2" cy="233.0" r="1.25"/>
<circle cx="268.7" cy="217.5" r="1.25"/>
<circle cx="268.5" cy="221.3" r="1.25"/>
<circle cx="268.7" cy="222.3" r="1.25"/>
<circle cx="269.4" cy="222.3" r="1.25"/>
<circle cx="270.3" cy="218.4" r="1.25"/>
<circle cx="270.3" cy="230.1" r="1.25"/>
<circle cx="271.1" cy="217.6" r="1.25"/>
<circle cx="271.4" cy="221.1" r="1.25"/>
<circle cx="272.0" cy="220.6" r="1.25"/>
<circle cx="271.9" cy="219.6" r="1.25"/>
<circle cx="272.0" cy="221.5" r="1.25"/>
<circle cx="272.9" cy="221.8" r="1.25"/>
<circle cx="273.8" cy="221.9" r="1.25"/>
<circle cx="273.9" cy="217.9" r="1.25"/>
<circle cx="274.5" cy="216.8" r="1.25"/>
<circle cx="275.1" cy="216.5" r="1.25"/>
<circle cx="275.2" cy="223.7" r="1.25"/>
<circle cx="275.7" cy="218.9" r="1.25"/>
<circle cx="275.7" cy="215.5" r="1.25"/>
<circle cx="276.5" cy="219.6" r="1.25"/>
<circle cx="276.9" cy="219.1" r="1.25"/>
<circle cx="277.0" cy="219.3" r="1.25"/>
<circle cx="277.4" cy="213.3" r="1.25"/>
<circle cx="278.3" cy="222.3" r="1.25"/>
<circle cx="278.7" cy="220.4" r="1.25"/>
<circle cx="278.7" cy="217.0" r="1.25"/>
<circle cx="279.6" cy="218.9" r="1.25"/>
<circle cx="279.3" cy="220.6" r="1.25"/>
<circle cx="280.2" cy="212.5" r="1.25"/>
<circle cx="280.1" cy="218.2" r="1.25"/>
<circle cx="280.8" cy="221.5" r="1.25"/>
<circle cx="281.0" cy="216.6" r="1.25"/>
<circle cx="282.1" cy="219.5" r="1.25"/>
<circle cx="282.5" cy="222.6" r="1.25"/>
<circle cx="283.1" cy="218.6" r="1.25"/>
<circle cx="283.4" cy="219.1" r="1.25"/>
<circle cx="283.5" cy="231.5" r="1.25"/>
<circle cx="284.4" cy="230.8" r="1.25"/>
<circle cx="284.2" cy="220.0" r="1.25"/>
<circle cx="284.7" cy="219.9" r="1.25"/>
<circle cx="285.0" cy="211.1" r="1.25"/>
<circle cx="285.3" cy="216.6" r="1.25"/>
<circle cx="285.9" cy="213.3" r="1.25"/>
<circle cx="286.8" cy="220.1" r="1.25"/>
<circle cx="286.8" cy="216.6" r="1.25"/>
<circle cx="287.8" cy="219.4" r="1.25"/>
<circle cx="288.1" cy="219.4" r="1.25"/>
<circle cx="287.9" cy="222.6" r="1.25"/>
<circle cx="288.6" cy="222.3" r="1.25"/>
<circle cx="289.4" cy="219.6" r="1.25"/>
<circle cx="289.2" cy="220.2" r="1.25"/>
<circle cx="290.0" cy="232.1" r="1.25"/>
<circle cx="290.3" cy="219.4" r="1.25"/>
<circle cx="290.6" cy="213.5" r="1.25"/>
<circle cx="290.9" cy="218.0" r="1.25"/>
<circle cx="291.4" cy="218.4" r="1.25"/>
<circle cx="292.1" cy="221.0" r="1.25"/>
<circle cx="292.3" cy="221.1" r="1.25"/>
<circle cx="292.4" cy="219.4" r="1.25"/>
<circle cx="293.6" cy="220.9" r="1.25"/>
<circle cx="293.8" cy="215.0" r="1.25"/>
<circle cx="294.3" cy="215.2" r="1.25"/>
<circle cx="294.3" cy="229.3" r="1.25"/>
<circle cx="294.6" cy="220.2" r="1.25"/>
</g>
<line x1="41" y1="226.7" x2="294.7" y2="226.7" stroke="#a8a8a8" stroke-width="1"/>
<path d="M41,226.70 H77.00 V224.71 H81.85 V222.72 H86.69 V220.73 H91.54 V218.74 H96.39 V216.75 H101.23 V214.76 H106.08 V212.77 H110.93 V210.78 H115.77 V208.79 H120.62 V206.80 H125.47 V204.81 H130.31 V202.82 H135.16 V200.83 H140.01 V198.84 H144.85 V196.85 H149.70 V194.86 H154.55 V192.87 H159.39 V190.88 H164.24 V188.89 H169.09 V186.90 H173.93 V184.91 H178.78 V182.92 H183.63 V180.93 H188.47 V178.94 H193.32 V176.95 H198.17 V174.96 H203.01 V172.97 H207.86 V170.98 H212.71 V168.99 H217.55 V167.00 H222.40 H260.4 V226.70 H294.7" stroke="#c4202c" stroke-width="2.1" fill="none"/>
<path d="M41,137 V242.3" stroke="#eb8f96" stroke-width="1.3"/>
<line x1="41" y1="226.7" x2="43.8" y2="226.7" stroke="#eb8f96" stroke-width="1.2"/>
<text x="38.6" y="230.5" font-size="11" fill="#c62f3b" text-anchor="end">0</text>
<line x1="41" y1="206.8" x2="43.8" y2="206.8" stroke="#eb8f96" stroke-width="1.2"/>
<text x="38.6" y="210.6" font-size="11" fill="#c62f3b" text-anchor="end">10</text>
<line x1="41" y1="186.9" x2="43.8" y2="186.9" stroke="#eb8f96" stroke-width="1.2"/>
<text x="38.6" y="190.7" font-size="11" fill="#c62f3b" text-anchor="end">20</text>
<line x1="41" y1="167.0" x2="43.8" y2="167.0" stroke="#eb8f96" stroke-width="1.2"/>
<text x="38.6" y="170.8" font-size="11" fill="#c62f3b" text-anchor="end">30</text>
<line x1="41" y1="147.1" x2="43.8" y2="147.1" stroke="#eb8f96" stroke-width="1.2"/>
<text x="38.6" y="150.9" font-size="11" fill="#c62f3b" text-anchor="end">40</text>
<text transform="translate(11.9,237.8) rotate(-90)" font-size="13.4" fill="#c62f3b">Amp., <tspan font-family="Liberation Serif, serif" font-style="italic" font-size="14">A</tspan><tspan font-family="Liberation Serif, serif" font-style="italic" font-size="8.5" dy="1.5">m</tspan><tspan dy="-1.5" font-size="11.6"> (% BW)</tspan></text>
<path d="M294.7,137.2 V242.3 M292,137.4 H294.7" stroke="#6aa3d6" stroke-width="1.3" fill="none"/>
<line x1="292" y1="226.7" x2="294.7" y2="226.7" stroke="#6aa3d6" stroke-width="1.2"/>
<text x="297.3" y="230.5" font-size="11" fill="#1f78c2">0</text>
<line x1="292" y1="204.4" x2="294.7" y2="204.4" stroke="#6aa3d6" stroke-width="1.2"/>
<text x="297.3" y="208.2" font-size="11" fill="#1f78c2">0.2</text>
<line x1="292" y1="182.1" x2="294.7" y2="182.1" stroke="#6aa3d6" stroke-width="1.2"/>
<text x="297.3" y="185.9" font-size="11" fill="#1f78c2">0.4</text>
<line x1="292" y1="159.7" x2="294.7" y2="159.7" stroke="#6aa3d6" stroke-width="1.2"/>
<text x="297.3" y="163.5" font-size="11" fill="#1f78c2">0.6</text>
<line x1="292" y1="137.4" x2="294.7" y2="137.4" stroke="#6aa3d6" stroke-width="1.2"/>
<text x="297.3" y="141.2" font-size="11" fill="#1f78c2">0.8</text>
<text transform="translate(329.9,255.2) rotate(-90)" font-size="13.4" fill="#1f78c2">(+) Impulse, <tspan font-family="Liberation Serif, serif" font-style="italic" font-size="13.5">J</tspan><tspan font-family="Liberation Serif, serif" font-style="italic" font-size="8" dy="1.5">c</tspan><tspan dy="-1.5" font-size="11"> (N s kg</tspan><tspan font-size="7" dy="-4">-1</tspan><tspan dy="4" font-size="11">)</tspan></text>
<path d="M40.5,257.3 H295 M40.6,257.3 V254.3 M77.0,257.3 V254.3 M113.3,257.3 V254.3 M149.7,257.3 V254.3 M186.1,257.3 V254.3 M222.4,257.3 V254.3 M258.8,257.3 V254.3 M295.1,257.3 V254.3" stroke="#444" stroke-width="1.1" fill="none"/>
<text x="40.6" y="267.2" font-size="11" fill="#262626" text-anchor="middle">-60</text>
<text x="77.0" y="267.2" font-size="11" fill="#262626" text-anchor="middle">0</text>
<text x="113.3" y="267.2" font-size="11" fill="#262626" text-anchor="middle">60</text>
<text x="149.7" y="267.2" font-size="11" fill="#262626" text-anchor="middle">120</text>
<text x="186.1" y="267.2" font-size="11" fill="#262626" text-anchor="middle">180</text>
<text x="222.4" y="267.2" font-size="11" fill="#262626" text-anchor="middle">240</text>
<text x="258.8" y="267.2" font-size="11" fill="#262626" text-anchor="middle">300</text>
<text x="295.1" y="267.2" font-size="11" fill="#262626" text-anchor="middle">360</text>
<text x="168" y="284.9" font-size="13.9" fill="#111" text-anchor="middle">Time (s)</text>
<text x="77.4" y="150.4" font-size="11" fill="#262626" text-anchor="middle">active</text>
<text x="77.4" y="164" font-size="11" fill="#262626" text-anchor="middle">oscillations</text>
<text x="77.4" y="177" font-size="11" fill="#262626" text-anchor="middle">begin</text>
<path d="M77.2,183.6 V213" stroke="#111" stroke-width="1.2"/>
<path d="M74.5,211.5 L77.2,218 L80,211.5 Z" fill="#111"/>
<rect x="121.5" y="192.6" width="4.3" height="22.5" fill="none" stroke="#111" stroke-width="1.25"/>
<rect x="170.4" y="174.9" width="4.3" height="22.5" fill="none" stroke="#111" stroke-width="1.25"/>
<rect x="219.3" y="154.9" width="4.3" height="23.4" fill="none" stroke="#111" stroke-width="1.25"/>
<text x="123.5" y="183" font-size="10.5" fill="#262626" text-anchor="middle">(i)</text>
<text x="172.1" y="164.4" font-size="10.5" fill="#262626" text-anchor="middle">(ii)</text>
<text x="221.3" y="145.6" font-size="10.5" fill="#262626" text-anchor="middle">(iii)</text>
<text x="363.5" y="12.9" font-size="17" fill="#111">C)</text>
<text transform="translate(362.4,63) rotate(-90)" font-size="13.8" fill="#c8303c" text-anchor="middle">Active Force</text>
<text transform="translate(385.2,60.1) rotate(-90)" font-size="10" fill="#262626" text-anchor="middle">±4 N kg<tspan font-size="6.5" dy="-3.5">-1</tspan></text>
<text x="423.5" y="10.3" font-size="10.5" fill="#262626"><tspan font-family="Liberation Serif, serif" font-style="italic" font-size="9.5" fill="#444">A</tspan><tspan font-family="Liberation Serif, serif" font-style="italic" font-size="6.5" dy="1" fill="#444">m</tspan><tspan dy="-1" font-size="10.5"> =</tspan></text>
<text x="425.6" y="22.7" font-size="10.8" fill="#262626" text-anchor="middle">(i) 10% BW</text>
<text x="518.3" y="17.1" font-size="10.8" fill="#262626" text-anchor="middle">(ii) 20% BW</text>
<text x="610.4" y="17.1" font-size="10.8" fill="#262626" text-anchor="middle">(iii) 30% BW</text>
<path d="M394.1,35.4 H391.3 V88.9 H394.1" stroke="#8a8a8a" stroke-width="1.2" fill="none"/>
<line x1="391.3" y1="62.3" x2="460.8" y2="62.3" stroke="#ababab" stroke-width="1"/>
<path d="M485.90000000000003,35.4 H483.1 V88.9 H485.90000000000003" stroke="#8a8a8a" stroke-width="1.2" fill="none"/>
<line x1="483.1" y1="62.3" x2="552.6" y2="62.3" stroke="#ababab" stroke-width="1"/>
<path d="M578.6999999999999,35.4 H575.9 V88.9 H578.6999999999999" stroke="#8a8a8a" stroke-width="1.2" fill="none"/>
<line x1="575.9" y1="62.3" x2="644.2" y2="62.3" stroke="#ababab" stroke-width="1"/>
<g stroke="#ec6a72" stroke-width="0.95" fill="none" stroke-opacity="0.88">
<polyline points="391.5,62.2 392.5,62.3 393.5,62.5 394.5,62.6 395.4,62.9 396.4,63.1 397.4,63.4 398.4,63.6 399.4,63.8 400.4,64.1 401.4,64.2 402.4,64.4 403.3,64.5 404.3,64.5 405.3,64.4 406.3,64.3 407.3,64.1 408.3,63.8 409.3,63.4 410.3,63.0 411.2,62.5 412.2,62.0 413.2,61.4 414.2,60.7 415.2,60.1 416.2,59.4 417.2,58.8 418.2,58.2 419.1,57.6 420.1,57.1 421.1,56.6 422.1,56.2 423.1,55.9 424.1,55.7 425.1,55.6 426.1,55.6 427.0,55.7 428.0,55.8 429.0,56.1 430.0,56.4 431.0,56.9 432.0,57.3 433.0,57.9 433.9,58.4 434.9,59.0 435.9,59.6 436.9,60.2 437.9,60.7 438.9,61.3 439.9,61.7 440.9,62.2 441.8,62.5 442.8,62.8 443.8,63.1 444.8,63.2 445.8,63.3 446.8,63.4 447.8,63.4 448.8,63.3 449.7,63.2 450.7,63.0 451.7,62.9 452.7,62.7 453.7,62.6 454.7,62.4 455.7,62.3 456.7,62.2 457.6,62.1 458.6,62.1 459.6,62.1 460.6,62.2"/>
<polyline points="391.5,71.5 392.5,71.3 393.5,71.0 394.5,70.8 395.4,70.5 396.4,70.3 397.4,70.1 398.4,69.9 399.4,69.7 400.4,69.5 401.4,69.4 402.4,69.2 403.3,69.1 404.3,68.9 405.3,68.8 406.3,68.6 407.3,68.4 408.3,68.2 409.3,67.9 410.3,67.7 411.2,67.3 412.2,67.0 413.2,66.6 414.2,66.3 415.2,65.8 416.2,65.4 417.2,65.0 418.2,64.5 419.1,64.1 420.1,63.6 421.1,63.2 422.1,62.8 423.1,62.5 424.1,62.2 425.1,62.0 426.1,61.8 427.0,61.7 428.0,61.7 429.0,61.8 430.0,61.9 431.0,62.1 432.0,62.5 433.0,62.8 433.9,63.3 434.9,63.8 435.9,64.4 436.9,65.0 437.9,65.7 438.9,66.4 439.9,67.1 440.9,67.8 441.8,68.4 442.8,69.1 443.8,69.7 444.8,70.3 445.8,70.8 446.8,71.3 447.8,71.7 448.8,72.1 449.7,72.3 450.7,72.5 451.7,72.7 452.7,72.7 453.7,72.7 454.7,72.7 455.7,72.5 456.7,72.4 457.6,72.2 458.6,72.0 459.6,71.8 460.6,71.5"/>
<polyline points="391.5,67.6 392.5,67.4 393.5,67.1 394.5,66.9 395.4,66.6 396.4,66.3 397.4,65.9 398.4,65.6 399.4,65.3 400.4,65.1 401.4,64.8 402.4,64.6 403.3,64.4 404.3,64.2 405.3,64.1 406.3,64.0 407.3,63.9 408.3,63.9 409.3,63.9 410.3,63.9 411.2,64.0 412.2,64.1 413.2,64.2 414.2,64.4 415.2,64.5 416.2,64.7 417.2,64.9 418.2,65.1 419.1,65.2 420.1,65.4 421.1,65.5 422.1,65.7 423.1,65.8 424.1,65.9 425.1,66.0 426.1,66.0 427.0,66.1 428.0,66.1 429.0,66.1 430.0,66.2 431.0,66.2 432.0,66.2 433.0,66.2 433.9,66.2 434.9,66.2 435.9,66.2 436.9,66.3 437.9,66.3 438.9,66.4 439.9,66.5 440.9,66.6 441.8,66.7 442.8,66.9 443.8,67.0 444.8,67.2 445.8,67.4 446.8,67.5 447.8,67.7 448.8,67.9 449.7,68.0 450.7,68.1 451.7,68.2 452.7,68.3 453.7,68.3 454.7,68.4 455.7,68.3 456.7,68.3 457.6,68.2 458.6,68.0 459.6,67.8 460.6,67.6"/>
<polyline points="391.5,68.2 392.5,68.2 393.5,68.2 394.5,68.1 395.4,68.0 396.4,67.9 397.4,67.8 398.4,67.7 399.4,67.5 400.4,67.3 401.4,67.0 402.4,66.8 403.3,66.5 404.3,66.2 405.3,65.8 406.3,65.5 407.3,65.1 408.3,64.7 409.3,64.3 410.3,63.9 411.2,63.6 412.2,63.2 413.2,62.8 414.2,62.5 415.2,62.2 416.2,61.9 417.2,61.7 418.2,61.6 419.1,61.4 420.1,61.4 421.1,61.3 422.1,61.4 423.1,61.5 424.1,61.6 425.1,61.8 426.1,62.0 427.0,62.3 428.0,62.6 429.0,63.0 430.0,63.3 431.0,63.7 432.0,64.1 433.0,64.5 433.9,64.9 434.9,65.3 435.9,65.7 436.9,66.0 437.9,66.3 438.9,66.7 439.9,66.9 440.9,67.2 441.8,67.4 442.8,67.6 443.8,67.8 444.8,67.9 445.8,68.0 446.8,68.1 447.8,68.2 448.8,68.2 449.7,68.3 450.7,68.3 451.7,68.3 452.7,68.3 453.7,68.3 454.7,68.3 455.7,68.3 456.7,68.3 457.6,68.3 458.6,68.3 459.6,68.3 460.6,68.2"/>
<polyline points="391.5,71.0 392.5,71.2 393.5,71.4 394.5,71.5 395.4,71.7 396.4,71.8 397.4,71.9 398.4,72.0 399.4,72.1 400.4,72.1 401.4,72.1 402.4,72.1 403.3,72.0 404.3,71.9 405.3,71.7 406.3,71.5 407.3,71.2 408.3,70.9 409.3,70.5 410.3,70.1 411.2,69.6 412.2,69.0 413.2,68.5 414.2,67.9 415.2,67.2 416.2,66.5 417.2,65.8 418.2,65.2 419.1,64.5 420.1,63.8 421.1,63.1 422.1,62.5 423.1,61.9 424.1,61.4 425.1,61.0 426.1,60.5 427.0,60.2 428.0,60.0 429.0,59.8 430.0,59.7 431.0,59.6 432.0,59.7 433.0,59.8 433.9,60.0 434.9,60.3 435.9,60.7 436.9,61.0 437.9,61.5 438.9,62.0 439.9,62.5 440.9,63.0 441.8,63.5 442.8,64.1 443.8,64.7 444.8,65.2 445.8,65.7 446.8,66.3 447.8,66.8 448.8,67.2 449.7,67.7 450.7,68.1 451.7,68.5 452.7,68.9 453.7,69.2 454.7,69.5 455.7,69.8 456.7,70.1 457.6,70.4 458.6,70.6 459.6,70.8 460.6,71.0"/>
<polyline points="391.5,69.1 392.5,68.9 393.5,68.7 394.5,68.5 395.4,68.3 396.4,68.1 397.4,67.9 398.4,67.6 399.4,67.4 400.4,67.2 401.4,67.0 402.4,66.9 403.3,66.7 404.3,66.5 405.3,66.4 406.3,66.2 407.3,66.1 408.3,65.9 409.3,65.8 410.3,65.7 411.2,65.7 412.2,65.6 413.2,65.5 414.2,65.5 415.2,65.5 416.2,65.5 417.2,65.5 418.2,65.6 419.1,65.6 420.1,65.7 421.1,65.8 422.1,65.9 423.1,66.0 424.1,66.2 425.1,66.3 426.1,66.5 427.0,66.7 428.0,66.9 429.0,67.1 430.0,67.3 431.0,67.6 432.0,67.8 433.0,68.1 433.9,68.3 434.9,68.5 435.9,68.8 436.9,69.0 437.9,69.2 438.9,69.4 439.9,69.6 440.9,69.8 441.8,69.9 442.8,70.1 443.8,70.2 444.8,70.3 445.8,70.4 446.8,70.4 447.8,70.5 448.8,70.5 449.7,70.5 450.7,70.4 451.7,70.4 452.7,70.3 453.7,70.2 454.7,70.1 455.7,70.0 456.7,69.8 457.6,69.7 458.6,69.5 459.6,69.3 460.6,69.1"/>
<polyline points="391.5,64.8 392.5,64.6 393.5,64.3 394.5,64.0 395.4,63.6 396.4,63.1 397.4,62.6 398.4,62.0 399.4,61.5 400.4,60.9 401.4,60.4 402.4,59.9 403.3,59.4 404.3,58.9 405.3,58.5 406.3,58.2 407.3,58.0 408.3,57.8 409.3,57.7 410.3,57.7 411.2,57.7 412.2,57.8 413.2,58.0 414.2,58.3 415.2,58.6 416.2,58.9 417.2,59.3 418.2,59.7 419.1,60.1 420.1,60.5 421.1,60.8 422.1,61.2 423.1,61.5 424.1,61.7 425.1,61.9 426.1,62.1 427.0,62.2 428.0,62.3 429.0,62.3 430.0,62.2 431.0,62.1 432.0,62.0 433.0,61.9 433.9,61.7 434.9,61.5 435.9,61.4 436.9,61.2 437.9,61.1 438.9,61.0 439.9,60.9 440.9,60.9 441.8,61.0 442.8,61.1 443.8,61.2 444.8,61.4 445.8,61.6 446.8,61.9 447.8,62.2 448.8,62.6 449.7,62.9 450.7,63.3 451.7,63.6 452.7,64.0 453.7,64.3 454.7,64.5 455.7,64.7 456.7,64.9 457.6,65.0 458.6,65.0 459.6,64.9 460.6,64.8"/>
<polyline points="391.5,65.8 392.5,65.4 393.5,65.1 394.5,64.7 395.4,64.3 396.4,63.9 397.4,63.4 398.4,63.0 399.4,62.6 400.4,62.2 401.4,61.8 402.4,61.4 403.3,61.0 404.3,60.7 405.3,60.3 406.3,59.9 407.3,59.6 408.3,59.3 409.3,59.0 410.3,58.7 411.2,58.4 412.2,58.1 413.2,57.8 414.2,57.6 415.2,57.4 416.2,57.1 417.2,57.0 418.2,56.8 419.1,56.6 420.1,56.5 421.1,56.4 422.1,56.4 423.1,56.4 424.1,56.4 425.1,56.5 426.1,56.6 427.0,56.7 428.0,56.9 429.0,57.2 430.0,57.5 431.0,57.8 432.0,58.2 433.0,58.6 433.9,59.1 434.9,59.6 435.9,60.1 436.9,60.7 437.9,61.3 438.9,61.8 439.9,62.4 440.9,63.0 441.8,63.5 442.8,64.1 443.8,64.6 444.8,65.1 445.8,65.5 446.8,65.9 447.8,66.3 448.8,66.5 449.7,66.8 450.7,67.0 451.7,67.1 452.7,67.2 453.7,67.2 454.7,67.1 455.7,67.0 456.7,66.8 457.6,66.6 458.6,66.4 459.6,66.1 460.6,65.8"/>
<polyline points="391.5,63.1 392.5,63.2 393.5,63.2 394.5,63.3 395.4,63.3 396.4,63.4 397.4,63.4 398.4,63.5 399.4,63.6 400.4,63.6 401.4,63.7 402.4,63.7 403.3,63.7 404.3,63.7 405.3,63.7 406.3,63.7 407.3,63.6 408.3,63.5 409.3,63.4 410.3,63.3 411.2,63.1 412.2,62.9 413.2,62.7 414.2,62.4 415.2,62.2 416.2,61.9 417.2,61.7 418.2,61.4 419.1,61.1 420.1,60.9 421.1,60.6 422.1,60.4 423.1,60.2 424.1,60.0 425.1,59.9 426.1,59.8 427.0,59.7 428.0,59.7 429.0,59.7 430.0,59.7 431.0,59.8 432.0,59.9 433.0,60.0 433.9,60.2 434.9,60.3 435.9,60.5 436.9,60.7 437.9,61.0 438.9,61.2 439.9,61.4 440.9,61.6 441.8,61.8 442.8,62.0 443.8,62.2 444.8,62.4 445.8,62.5 446.8,62.7 447.8,62.8 448.8,62.9 449.7,62.9 450.7,63.0 451.7,63.0 452.7,63.1 453.7,63.1 454.7,63.1 455.7,63.1 456.7,63.1 457.6,63.1 458.6,63.1 459.6,63.1 460.6,63.1"/>
<polyline points="391.5,71.0 392.5,71.2 393.5,71.3 394.5,71.4 395.4,71.4 396.4,71.4 397.4,71.3 398.4,71.1 399.4,70.8 400.4,70.5 401.4,70.0 402.4,69.6 403.3,69.0 404.3,68.4 405.3,67.8 406.3,67.1 407.3,66.4 408.3,65.7 409.3,65.0 410.3,64.3 411.2,63.7 412.2,63.2 413.2,62.7 414.2,62.3 415.2,61.9 416.2,61.7 417.2,61.6 418.2,61.5 419.1,61.6 420.1,61.8 421.1,62.0 422.1,62.4 423.1,62.8 424.1,63.3 425.1,63.8 426.1,64.4 427.0,65.0 428.0,65.6 429.0,66.2 430.0,66.8 431.0,67.4 432.0,67.9 433.0,68.4 433.9,68.9 434.9,69.2 435.9,69.5 436.9,69.8 437.9,69.9 438.9,70.1 439.9,70.1 440.9,70.1 441.8,70.1 442.8,70.0 443.8,69.9 444.8,69.8 445.8,69.7 446.8,69.6 447.8,69.6 448.8,69.5 449.7,69.5 450.7,69.5 451.7,69.5 452.7,69.6 453.7,69.7 454.7,69.8 455.7,70.0 456.7,70.2 457.6,70.4 458.6,70.6 459.6,70.8 460.6,71.0"/>
<polyline points="391.5,63.7 392.5,63.3 393.5,62.9 394.5,62.4 395.4,62.0 396.4,61.5 397.4,60.9 398.4,60.4 399.4,59.8 400.4,59.2 401.4,58.6 402.4,58.1 403.3,57.5 404.3,56.9 405.3,56.4 406.3,55.9 407.3,55.4 408.3,55.0 409.3,54.7 410.3,54.4 411.2,54.1 412.2,54.0 413.2,53.9 414.2,53.9 415.2,54.0 416.2,54.1 417.2,54.3 418.2,54.6 419.1,55.0 420.1,55.4 421.1,55.9 422.1,56.5 423.1,57.0 424.1,57.7 425.1,58.3 426.1,59.0 427.0,59.7 428.0,60.3 429.0,61.0 430.0,61.7 431.0,62.3 432.0,62.9 433.0,63.4 433.9,64.0 434.9,64.4 435.9,64.9 436.9,65.3 437.9,65.6 438.9,65.9 439.9,66.1 440.9,66.3 441.8,66.4 442.8,66.5 443.8,66.6 444.8,66.6 445.8,66.6 446.8,66.6 447.8,66.5 448.8,66.5 449.7,66.3 450.7,66.2 451.7,66.1 452.7,65.9 453.7,65.7 454.7,65.5 455.7,65.3 456.7,65.0 457.6,64.7 458.6,64.4 459.6,64.1 460.6,63.7"/>
<polyline points="391.5,65.3 392.5,65.8 393.5,66.3 394.5,66.7 395.4,67.1 396.4,67.4 397.4,67.5 398.4,67.6 399.4,67.6 400.4,67.5 401.4,67.3 402.4,67.0 403.3,66.6 404.3,66.1 405.3,65.5 406.3,64.9 407.3,64.2 408.3,63.5 409.3,62.7 410.3,61.9 411.2,61.2 412.2,60.5 413.2,59.7 414.2,59.1 415.2,58.5 416.2,57.9 417.2,57.5 418.2,57.1 419.1,56.8 420.1,56.6 421.1,56.4 422.1,56.3 423.1,56.3 424.1,56.4 425.1,56.5 426.1,56.7 427.0,56.9 428.0,57.1 429.0,57.4 430.0,57.6 431.0,57.9 432.0,58.1 433.0,58.3 433.9,58.5 434.9,58.7 435.9,58.8 436.9,59.0 437.9,59.0 438.9,59.1 439.9,59.1 440.9,59.1 441.8,59.2 442.8,59.2 443.8,59.2 444.8,59.2 445.8,59.3 446.8,59.4 447.8,59.5 448.8,59.7 449.7,60.0 450.7,60.3 451.7,60.6 452.7,61.0 453.7,61.5 454.7,61.9 455.7,62.5 456.7,63.0 457.6,63.6 458.6,64.2 459.6,64.8 460.6,65.3"/>
<polyline points="391.5,66.4 392.5,66.5 393.5,66.6 394.5,66.7 395.4,66.8 396.4,66.9 397.4,67.0 398.4,67.1 399.4,67.2 400.4,67.3 401.4,67.4 402.4,67.5 403.3,67.5 404.3,67.6 405.3,67.6 406.3,67.5 407.3,67.5 408.3,67.4 409.3,67.2 410.3,67.1 411.2,66.9 412.2,66.6 413.2,66.4 414.2,66.1 415.2,65.8 416.2,65.4 417.2,65.1 418.2,64.7 419.1,64.4 420.1,64.1 421.1,63.7 422.1,63.4 423.1,63.1 424.1,62.9 425.1,62.7 426.1,62.5 427.0,62.3 428.0,62.2 429.0,62.2 430.0,62.1 431.0,62.2 432.0,62.2 433.0,62.3 433.9,62.4 434.9,62.6 435.9,62.8 436.9,63.0 437.9,63.2 438.9,63.5 439.9,63.7 440.9,64.0 441.8,64.2 442.8,64.4 443.8,64.7 444.8,64.9 445.8,65.1 446.8,65.2 447.8,65.4 448.8,65.5 449.7,65.6 450.7,65.7 451.7,65.8 452.7,65.9 453.7,66.0 454.7,66.0 455.7,66.1 456.7,66.2 457.6,66.2 458.6,66.3 459.6,66.3 460.6,66.4"/>
</g>
<text x="437.6" y="45" font-size="9.6" fill="#c8303c" text-anchor="middle">all traces</text>
<path d="M437.4,48.2 Q437.2,53.5 433.2,55.8" stroke="#222" stroke-width="0.9" fill="none"/>
<polygon points="483.30,67.85 484.07,66.41 484.84,64.88 485.61,63.29 486.38,61.66 487.14,60.31 487.91,59.32 488.68,58.33 489.45,57.34 490.22,56.36 490.99,55.38 491.76,54.41 492.53,53.46 493.30,52.52 494.06,51.61 494.83,50.72 495.60,49.87 496.37,49.05 497.14,48.27 497.91,47.54 498.68,46.86 499.45,46.24 500.22,45.68 500.98,45.19 501.75,44.77 502.52,44.43 503.29,44.18 504.06,44.00 504.83,43.91 505.60,43.92 506.37,44.02 507.14,44.22 507.90,44.51 508.67,44.90 509.44,45.38 510.21,45.95 510.98,46.59 511.75,47.31 512.52,48.10 513.29,48.94 514.06,49.84 514.82,50.79 515.59,51.77 516.36,52.79 517.13,53.84 517.90,54.91 518.67,56.00 519.44,57.09 520.21,58.19 520.98,59.30 521.74,60.40 522.51,61.39 523.28,62.34 524.05,63.28 524.82,64.20 525.59,65.10 526.36,65.97 527.13,66.82 527.90,67.64 528.66,68.42 529.43,69.17 530.20,69.88 530.97,70.55 531.74,71.18 532.51,71.76 533.28,72.29 534.05,72.77 534.82,73.20 535.58,73.57 536.35,73.89 537.12,74.15 537.89,74.35 538.66,74.49 539.43,74.58 540.20,74.60 540.97,74.57 541.74,74.49 542.50,74.36 543.27,74.18 544.04,73.96 544.81,73.69 545.58,73.37 546.35,73.01 547.12,72.61 547.89,72.16 548.66,71.68 549.42,71.15 550.19,70.59 550.96,69.99 551.73,69.36 552.50,68.71 552.50,71.51 551.73,72.16 550.96,72.79 550.19,73.39 549.42,73.95 548.66,74.48 547.89,74.96 547.12,75.41 546.35,75.81 545.58,76.17 544.81,76.49 544.04,76.76 543.27,76.98 542.50,77.16 541.74,77.29 540.97,77.37 540.20,77.40 539.43,77.38 538.66,77.29 537.89,77.15 537.12,76.95 536.35,76.69 535.58,76.37 534.82,76.00 534.05,75.57 533.28,75.09 532.51,74.56 531.74,73.99 530.97,73.36 530.20,72.70 529.43,71.99 528.66,71.25 527.90,70.48 527.13,69.67 526.36,68.84 525.59,67.99 524.82,67.12 524.05,66.23 523.28,65.33 522.51,64.42 521.74,63.49 520.98,62.46 520.21,61.43 519.44,60.41 518.67,59.42 517.90,58.44 517.13,57.49 516.36,56.57 515.59,55.69 514.82,54.85 514.06,54.06 513.29,53.32 512.52,52.63 511.75,51.99 510.98,51.42 510.21,50.91 509.44,50.47 508.67,50.10 507.90,49.79 507.14,49.56 506.37,49.40 505.60,49.32 504.83,49.30 504.06,49.36 503.29,49.47 502.52,49.65 501.75,49.89 500.98,50.19 500.22,50.55 499.45,50.96 498.68,51.43 497.91,51.96 497.14,52.53 496.37,53.16 495.60,53.83 494.83,54.54 494.06,55.29 493.30,56.08 492.53,56.90 491.76,57.76 490.99,58.63 490.22,59.53 489.45,60.45 488.68,61.38 487.91,62.33 487.14,63.27 486.38,64.59 485.61,66.19 484.84,67.76 484.07,69.26 483.30,70.70" fill="#f6b0b3" fill-opacity="0.85"/>
<polyline points="483.30,69.30 484.07,67.86 484.84,66.36 485.61,64.79 486.38,63.19 487.14,61.87 487.91,60.93 488.68,59.98 489.45,59.05 490.22,58.13 490.99,57.23 491.76,56.36 492.53,55.50 493.30,54.68 494.06,53.89 494.83,53.14 495.60,52.43 496.37,51.76 497.14,51.13 497.91,50.56 498.68,50.03 499.45,49.56 500.22,49.15 500.98,48.79 501.75,48.49 502.52,48.25 503.29,48.07 504.06,47.96 504.83,47.90 505.60,47.92 506.37,48.00 507.14,48.16 507.90,48.39 508.67,48.70 509.44,49.07 510.21,49.51 510.98,50.02 511.75,50.59 512.52,51.23 513.29,51.92 514.06,52.66 514.82,53.45 515.59,54.29 516.36,55.17 517.13,56.09 517.90,57.04 518.67,58.02 519.44,59.01 520.21,60.03 520.98,61.06 521.74,62.09 522.51,63.02 523.28,63.93 524.05,64.83 524.82,65.72 525.59,66.59 526.36,67.44 527.13,68.27 527.90,69.08 528.66,69.85 529.43,70.59 530.20,71.30 530.97,71.96 531.74,72.59 532.51,73.16 533.28,73.69 534.05,74.17 534.82,74.60 535.58,74.97 536.35,75.29 537.12,75.55 537.89,75.75 538.66,75.89 539.43,75.98 540.20,76.00 540.97,75.97 541.74,75.89 542.50,75.76 543.27,75.58 544.04,75.36 544.81,75.09 545.58,74.77 546.35,74.41 547.12,74.01 547.89,73.56 548.66,73.08 549.42,72.55 550.19,71.99 550.96,71.39 551.73,70.76 552.50,70.11" stroke="#d42630" stroke-width="1.9" fill="none"/>
<polyline points="483.30,68.13 484.07,67.31 484.84,66.48 485.61,65.62 486.38,64.75 487.14,63.87 487.91,62.98 488.68,62.09 489.45,61.19 490.22,60.31 490.99,59.43 491.76,58.56 492.53,57.72 493.30,56.90 494.06,56.10 494.83,55.34 495.60,54.61 496.37,53.92 497.14,53.28 497.91,52.67 498.68,52.12 499.45,51.62 500.22,51.17 500.98,50.78 501.75,50.45 502.52,50.17 503.29,49.96 504.06,49.81 504.83,49.72 505.60,49.70 506.37,49.75 507.14,49.87 507.90,50.07 508.67,50.35 509.44,50.69 510.21,51.11 510.98,51.59 511.75,52.14 512.52,52.75 513.29,53.42 514.06,54.15 514.82,54.92 515.59,55.74 516.36,56.59 517.13,57.49 517.90,58.41 518.67,59.35 519.44,60.31 520.21,61.29 520.98,62.27 521.74,63.18 522.51,64.08 523.28,64.98 524.05,65.86 524.82,66.73 525.59,67.58 526.36,68.40 527.13,69.20 527.90,69.96 528.66,70.69 529.43,71.38 530.20,72.02 530.97,72.63 531.74,73.18 532.51,73.69 533.28,74.14 534.05,74.54 534.82,74.88 535.58,75.16 536.35,75.39 537.12,75.55 537.89,75.66 538.66,75.70 539.43,75.68 540.20,75.61 540.97,75.49 541.74,75.32 542.50,75.10 543.27,74.83 544.04,74.51 544.81,74.15 545.58,73.74 546.35,73.28 547.12,72.78 547.89,72.24 548.66,71.67 549.42,71.05 550.19,70.41 550.96,69.73 551.73,69.02 552.50,68.29" stroke="#3a3a3a" stroke-width="1.05" stroke-dasharray="2.3,1.7" fill="none"/>
<text x="534.5" y="36.3" font-size="9.6" fill="#c8303c" text-anchor="middle">mean</text>
<text x="535.7" y="46" font-size="9.6" fill="#c8303c" text-anchor="middle">±1 SD</text>
<path d="M519.6,36.4 L513.5,36.4 Q510,37 507.8,40.4" stroke="#222" stroke-width="0.9" fill="none"/>
<path d="M506.3,40 L506.6,42.6 L508.6,41.1 Z" fill="#222"/>
<polygon points="576.30,78.61 577.05,77.76 577.81,76.84 578.56,75.87 579.32,74.84 580.07,73.75 580.83,72.62 581.58,71.45 582.34,70.24 583.09,68.99 583.84,67.71 584.60,66.41 585.35,65.09 586.11,63.75 586.86,62.40 587.62,61.05 588.37,59.31 589.13,57.53 589.88,55.78 590.63,54.08 591.39,52.42 592.14,50.84 592.90,49.34 593.65,47.94 594.41,46.64 595.16,45.46 595.92,44.40 596.67,43.48 597.42,42.70 598.18,42.07 598.93,41.59 599.69,41.28 600.44,41.12 601.20,41.11 601.95,41.21 602.71,41.39 603.46,41.67 604.21,42.03 604.97,42.49 605.72,43.02 606.48,43.64 607.23,44.35 607.99,45.12 608.74,45.97 609.50,46.89 610.25,47.88 611.00,48.92 611.76,50.02 612.51,51.18 613.27,52.37 614.02,53.61 614.78,54.88 615.53,56.18 616.29,57.50 617.04,58.83 617.79,60.18 618.55,61.57 619.30,63.01 620.06,64.44 620.81,65.86 621.57,67.25 622.32,68.62 623.08,69.96 623.83,71.26 624.58,72.52 625.34,73.73 626.09,74.88 626.85,75.97 627.60,77.01 628.36,77.97 629.11,78.86 629.87,79.68 630.62,80.42 631.37,81.08 632.13,81.65 632.88,82.13 633.64,82.53 634.39,82.84 635.15,83.05 635.90,83.17 636.66,83.20 637.41,83.15 638.16,83.03 638.92,82.85 639.67,82.59 640.43,82.28 641.18,81.89 641.94,81.44 642.69,80.93 643.45,80.35 644.20,79.72 644.20,82.32 643.45,82.95 642.69,83.53 641.94,84.04 641.18,84.49 640.43,84.88 639.67,85.19 638.92,85.45 638.16,85.63 637.41,85.75 636.66,85.80 635.90,85.77 635.15,85.65 634.39,85.44 633.64,85.13 632.88,84.73 632.13,84.25 631.37,83.68 630.62,83.02 629.87,82.28 629.11,81.46 628.36,80.57 627.60,79.61 626.85,78.57 626.09,77.48 625.34,76.33 624.58,75.12 623.83,73.86 623.08,72.56 622.32,71.22 621.57,69.85 620.81,68.46 620.06,67.04 619.30,65.61 618.55,64.17 617.79,62.78 617.04,61.43 616.29,60.10 615.53,58.78 614.78,57.48 614.02,56.21 613.27,54.97 612.51,53.78 611.76,52.62 611.00,51.52 610.25,50.48 609.50,49.49 608.74,48.57 607.99,47.72 607.23,46.95 606.48,46.24 605.72,45.62 604.97,45.09 604.21,44.63 603.46,44.27 602.71,43.99 601.95,43.81 601.20,43.71 600.44,43.72 599.69,43.88 598.93,44.19 598.18,44.67 597.42,45.30 596.67,46.08 595.92,47.00 595.16,48.06 594.41,49.24 593.65,50.54 592.90,51.94 592.14,53.44 591.39,55.02 590.63,56.68 589.88,58.38 589.13,60.13 588.37,61.91 587.62,63.65 586.86,65.00 586.11,66.35 585.35,67.69 584.60,69.01 583.84,70.31 583.09,71.59 582.34,72.84 581.58,74.05 580.83,75.22 580.07,76.35 579.32,77.44 578.56,78.47 577.81,79.44 577.05,80.36 576.30,81.21" fill="#f6b0b3" fill-opacity="0.85"/>
<polyline points="576.30,79.91 577.05,79.06 577.81,78.14 578.56,77.17 579.32,76.14 580.07,75.05 580.83,73.92 581.58,72.75 582.34,71.54 583.09,70.29 583.84,69.01 584.60,67.71 585.35,66.39 586.11,65.05 586.86,63.70 587.62,62.35 588.37,60.61 589.13,58.83 589.88,57.08 590.63,55.38 591.39,53.72 592.14,52.14 592.90,50.64 593.65,49.24 594.41,47.94 595.16,46.76 595.92,45.70 596.67,44.78 597.42,44.00 598.18,43.37 598.93,42.89 599.69,42.58 600.44,42.42 601.20,42.41 601.95,42.51 602.71,42.69 603.46,42.97 604.21,43.33 604.97,43.79 605.72,44.32 606.48,44.94 607.23,45.65 607.99,46.42 608.74,47.27 609.50,48.19 610.25,49.18 611.00,50.22 611.76,51.32 612.51,52.48 613.27,53.67 614.02,54.91 614.78,56.18 615.53,57.48 616.29,58.80 617.04,60.13 617.79,61.48 618.55,62.87 619.30,64.31 620.06,65.74 620.81,67.16 621.57,68.55 622.32,69.92 623.08,71.26 623.83,72.56 624.58,73.82 625.34,75.03 626.09,76.18 626.85,77.27 627.60,78.31 628.36,79.27 629.11,80.16 629.87,80.98 630.62,81.72 631.37,82.38 632.13,82.95 632.88,83.43 633.64,83.83 634.39,84.14 635.15,84.35 635.90,84.47 636.66,84.50 637.41,84.45 638.16,84.33 638.92,84.15 639.67,83.89 640.43,83.58 641.18,83.19 641.94,82.74 642.69,82.23 643.45,81.65 644.20,81.02" stroke="#d42630" stroke-width="1.9" fill="none"/>
<polyline points="576.30,76.51 577.05,75.42 577.81,74.26 578.56,73.05 579.32,71.79 580.07,70.47 580.83,69.12 581.58,67.74 582.34,66.33 583.09,64.90 583.84,63.46 584.60,62.02 585.35,60.61 586.11,59.21 586.86,57.83 587.62,56.48 588.37,55.15 589.13,53.87 589.88,52.62 590.63,51.44 591.39,50.31 592.14,49.24 592.90,48.25 593.65,47.33 594.41,46.50 595.16,45.75 595.92,45.09 596.67,44.53 597.42,44.06 598.18,43.69 598.93,43.42 599.69,43.26 600.44,43.20 601.20,43.24 601.95,43.36 602.71,43.57 603.46,43.87 604.21,44.25 604.97,44.71 605.72,45.25 606.48,45.87 607.23,46.56 607.99,47.33 608.74,48.17 609.50,49.06 610.25,50.02 611.00,51.04 611.76,52.10 612.51,53.22 613.27,54.37 614.02,55.56 614.78,56.78 615.53,58.02 616.29,59.29 617.04,60.56 617.79,61.85 618.55,63.30 619.30,64.80 620.06,66.29 620.81,67.76 621.57,69.19 622.32,70.60 623.08,71.96 623.83,73.27 624.58,74.52 625.34,75.71 626.09,76.83 626.85,77.87 627.60,78.83 628.36,79.71 629.11,80.50 629.87,81.19 630.62,81.78 631.37,82.28 632.13,82.67 632.88,82.95 633.64,83.13 634.39,83.20 635.15,83.17 635.90,83.08 636.66,82.92 637.41,82.69 638.16,82.39 638.92,82.03 639.67,81.60 640.43,81.10 641.18,80.55 641.94,79.93 642.69,79.26 643.45,78.53 644.20,77.74" stroke="#3a3a3a" stroke-width="1.05" stroke-dasharray="2.3,1.7" fill="none"/>
<text x="645.3" y="36.3" font-size="9.6" fill="#262626" text-anchor="end">command</text>
<text x="645.3" y="45.8" font-size="9.6" fill="#262626" text-anchor="end">force</text>
<path d="M602.7,34.1 C591,33.8 581.5,36 581.2,44.5 C581,49 582.5,52 584.2,53.6" stroke="#222" stroke-width="0.9" fill="none"/>
<path d="M582.6,54.2 L585.9,56 L585,52.3 Z" fill="#222"/>
<text x="650.3" y="65.9" font-size="11" fill="#111" text-anchor="middle">0</text>
<path d="M658.7,40 V58.5 M658.7,67.4 V86" stroke="#111" stroke-width="1.1"/>
<path d="M656.3,41.5 L658.7,35.8 L661.1,41.5 Z M656.3,84 L658.7,89.7 L661.1,84 Z" fill="#111"/>
<text x="662.5" y="52.4" font-size="9.6" fill="#262626">up</text>
<text x="662.5" y="78.9" font-size="9.5" fill="#262626">down</text>
<line x1="385" y1="120.7" x2="466.5" y2="120.7" stroke="#9c9c9c" stroke-width="1.7"/>
<polyline points="397.70,112.50 399.15,111.80 400.59,111.33 402.04,110.92 403.49,110.55 404.94,110.21 406.38,109.90 407.83,109.61 409.28,109.34 410.73,109.10 412.18,108.88 413.62,108.67 415.07,108.49 416.52,108.33 417.96,108.19 419.41,108.07 420.86,107.97 422.31,107.90 423.75,107.84 425.20,107.81 426.65,107.80 428.10,107.81 429.55,107.84 430.99,107.90 432.44,107.97 433.89,108.07 435.34,108.19 436.78,108.33 438.23,108.49 439.68,108.67 441.12,108.88 442.57,109.10 444.02,109.34 445.47,109.61 446.92,109.90 448.36,110.21 449.81,110.55 451.26,110.92 452.71,111.33 454.15,111.80 455.60,112.50" stroke="#111" stroke-width="1.15" stroke-dasharray="1.9,1.3" fill="none"/>
<path d="M392.15,101.60 L393.91,100.50 L395.93,100.60 L396.55,101.90 L396.90,105.50 L399.45,108.60 L398.92,109.60 L396.81,107.90 L396.72,112.30 L397.87,116.50 L399.63,120.00 L400.51,120.60 L397.87,120.70 L396.20,117.10 L394.52,114.30 L391.88,118.30 L390.83,120.50 L388.89,120.60 L390.65,117.70 L391.97,113.70 L391.71,110.90 L390.48,111.90 L390.04,111.10 L391.53,106.80 Z" fill="#bdbdbd" stroke="#4c4c4c" stroke-width="0.55" stroke-linejoin="round"/><ellipse cx="395.20" cy="98.90" rx="1.9" ry="2.4" fill="#bdbdbd" stroke="#4c4c4c" stroke-width="0.55"/><path d="M424.40,100.00 L428.30,100.00 L428.77,105.30 L428.58,111.30 L428.20,116.80 L428.58,120.80 L425.64,120.80 L425.54,117.80 L423.64,116.90 L424.50,113.80 L424.21,111.30 L424.02,105.30 Z" fill="#bdbdbd" stroke="#4c4c4c" stroke-width="0.55" stroke-linejoin="round"/><ellipse cx="426.40" cy="97.60" rx="1.8" ry="2.3" fill="#bdbdbd" stroke="#4c4c4c" stroke-width="0.55"/><path d="M456.05,101.60 L457.81,100.50 L459.83,100.60 L460.45,101.90 L460.80,105.50 L463.35,108.60 L462.82,109.60 L460.71,107.90 L460.62,112.30 L461.77,116.50 L463.53,120.00 L464.41,120.60 L461.77,120.70 L460.10,117.10 L458.42,114.30 L455.78,118.30 L454.73,120.50 L452.79,120.60 L454.55,117.70 L455.87,113.70 L455.61,110.90 L454.38,111.90 L453.94,111.10 L455.43,106.80 Z" fill="#bdbdbd" stroke="#4c4c4c" stroke-width="0.55" stroke-linejoin="round"/><ellipse cx="459.10" cy="98.90" rx="1.9" ry="2.4" fill="#bdbdbd" stroke="#4c4c4c" stroke-width="0.55"/>
<text x="394.7" y="132" font-size="10" fill="#262626" text-anchor="middle">DS</text>
<text x="426.4" y="132" font-size="10" fill="#262626" text-anchor="middle">MS</text>
<text x="459.1" y="132" font-size="10" fill="#262626" text-anchor="middle">DS</text>
<line x1="477.8" y1="120.7" x2="558.1" y2="120.7" stroke="#9c9c9c" stroke-width="1.7"/>
<polyline points="488.50,112.50 489.98,111.82 491.45,111.36 492.93,110.96 494.41,110.59 495.89,110.26 497.37,109.96 498.84,109.67 500.32,109.41 501.80,109.17 503.27,108.95 504.75,108.75 506.23,108.58 507.71,108.42 509.19,108.28 510.66,108.17 512.14,108.07 513.62,108.00 515.10,107.94 516.57,107.91 518.05,107.90 519.53,107.91 521.00,107.94 522.48,108.00 523.96,108.07 525.44,108.17 526.91,108.28 528.39,108.42 529.87,108.58 531.35,108.75 532.83,108.95 534.30,109.17 535.78,109.41 537.26,109.67 538.74,109.96 540.21,110.26 541.69,110.59 543.17,110.96 544.64,111.36 546.12,111.82 547.60,112.50" stroke="#111" stroke-width="1.15" stroke-dasharray="1.9,1.3" fill="none"/>
<path d="M482.95,101.60 L484.71,100.50 L486.73,100.60 L487.35,101.90 L487.70,105.50 L490.25,108.60 L489.72,109.60 L487.61,107.90 L487.52,112.30 L488.67,116.50 L490.43,120.00 L491.31,120.60 L488.67,120.70 L487.00,117.10 L485.32,114.30 L482.68,118.30 L481.63,120.50 L479.69,120.60 L481.45,117.70 L482.77,113.70 L482.51,110.90 L481.28,111.90 L480.84,111.10 L482.33,106.80 Z" fill="#bdbdbd" stroke="#4c4c4c" stroke-width="0.55" stroke-linejoin="round"/><ellipse cx="486.00" cy="98.90" rx="1.9" ry="2.4" fill="#bdbdbd" stroke="#4c4c4c" stroke-width="0.55"/><path d="M516.61,100.00 L520.50,100.00 L520.98,105.30 L520.78,111.30 L520.40,116.80 L520.78,120.80 L517.84,120.80 L517.75,117.80 L515.85,116.90 L516.70,113.80 L516.42,111.30 L516.23,105.30 Z" fill="#bdbdbd" stroke="#4c4c4c" stroke-width="0.55" stroke-linejoin="round"/><ellipse cx="518.60" cy="97.60" rx="1.8" ry="2.3" fill="#bdbdbd" stroke="#4c4c4c" stroke-width="0.55"/><path d="M548.05,101.60 L549.81,100.50 L551.83,100.60 L552.45,101.90 L552.80,105.50 L555.35,108.60 L554.82,109.60 L552.71,107.90 L552.62,112.30 L553.77,116.50 L555.53,120.00 L556.41,120.60 L553.77,120.70 L552.10,117.10 L550.42,114.30 L547.78,118.30 L546.73,120.50 L544.79,120.60 L546.55,117.70 L547.87,113.70 L547.61,110.90 L546.38,111.90 L545.94,111.10 L547.43,106.80 Z" fill="#bdbdbd" stroke="#4c4c4c" stroke-width="0.55" stroke-linejoin="round"/><ellipse cx="551.10" cy="98.90" rx="1.9" ry="2.4" fill="#bdbdbd" stroke="#4c4c4c" stroke-width="0.55"/>
<text x="485.5" y="132" font-size="10" fill="#262626" text-anchor="middle">DS</text>
<text x="518.6" y="132" font-size="10" fill="#262626" text-anchor="middle">MS</text>
<text x="551.1" y="132" font-size="10" fill="#262626" text-anchor="middle">DS</text>
<line x1="570" y1="120.7" x2="650.7" y2="120.7" stroke="#9c9c9c" stroke-width="1.7"/>
<polyline points="579.30,112.50 580.75,111.33 582.20,110.53 583.66,109.85 585.11,109.23 586.56,108.66 588.01,108.13 589.47,107.64 590.92,107.20 592.37,106.78 593.82,106.41 595.28,106.07 596.73,105.76 598.18,105.49 599.63,105.26 601.09,105.06 602.54,104.89 603.99,104.76 605.44,104.67 606.90,104.62 608.35,104.60 609.80,104.62 611.25,104.67 612.71,104.76 614.16,104.89 615.61,105.06 617.06,105.26 618.52,105.49 619.97,105.76 621.42,106.07 622.88,106.41 624.33,106.78 625.78,107.20 627.23,107.64 628.68,108.13 630.14,108.66 631.59,109.23 633.04,109.85 634.50,110.53 635.95,111.33 637.40,112.50" stroke="#111" stroke-width="1.15" stroke-dasharray="1.9,1.3" fill="none"/>
<path d="M573.75,101.60 L575.51,100.50 L577.53,100.60 L578.15,101.90 L578.50,105.50 L581.05,108.60 L580.52,109.60 L578.41,107.90 L578.32,112.30 L579.47,116.50 L581.23,120.00 L582.11,120.60 L579.47,120.70 L577.80,117.10 L576.12,114.30 L573.48,118.30 L572.43,120.50 L570.49,120.60 L572.25,117.70 L573.57,113.70 L573.31,110.90 L572.08,111.90 L571.64,111.10 L573.13,106.80 Z" fill="#bdbdbd" stroke="#4c4c4c" stroke-width="0.55" stroke-linejoin="round"/><ellipse cx="576.80" cy="98.90" rx="1.9" ry="2.4" fill="#bdbdbd" stroke="#4c4c4c" stroke-width="0.55"/><path d="M608.61,100.00 L612.50,100.00 L612.98,105.30 L612.78,111.30 L612.40,116.80 L612.78,120.80 L609.84,120.80 L609.75,117.80 L607.85,116.90 L608.70,113.80 L608.42,111.30 L608.23,105.30 Z" fill="#bdbdbd" stroke="#4c4c4c" stroke-width="0.55" stroke-linejoin="round"/><ellipse cx="610.60" cy="97.60" rx="1.8" ry="2.3" fill="#bdbdbd" stroke="#4c4c4c" stroke-width="0.55"/><path d="M637.85,101.60 L639.61,100.50 L641.63,100.60 L642.25,101.90 L642.60,105.50 L645.15,108.60 L644.62,109.60 L642.51,107.90 L642.42,112.30 L643.57,116.50 L645.33,120.00 L646.21,120.60 L643.57,120.70 L641.90,117.10 L640.22,114.30 L637.58,118.30 L636.53,120.50 L634.59,120.60 L636.35,117.70 L637.67,113.70 L637.41,110.90 L636.18,111.90 L635.74,111.10 L637.23,106.80 Z" fill="#bdbdbd" stroke="#4c4c4c" stroke-width="0.55" stroke-linejoin="round"/><ellipse cx="640.90" cy="98.90" rx="1.9" ry="2.4" fill="#bdbdbd" stroke="#4c4c4c" stroke-width="0.55"/>
<text x="576.3" y="132" font-size="10" fill="#262626" text-anchor="middle">DS</text>
<text x="610.6" y="132" font-size="10" fill="#262626" text-anchor="middle">MS</text>
<text x="640.9" y="132" font-size="10" fill="#262626" text-anchor="middle">DS</text>
<text x="406.5" y="87.2" font-size="9.6" fill="#262626">CoM</text>
<path d="M407.8,88.8 C403.5,92 403,99 406.6,104.2" stroke="#111" stroke-width="0.9" fill="none"/>
<path d="M405,103.5 L407.8,107 L408.3,102.6 Z" fill="#111"/>
<circle cx="409.8" cy="109.6" r="3" fill="#fff" stroke="#111" stroke-width="0.9"/>
<path d="M409.8,109.6 V106.6 A3,3 0 0 1 412.8,109.6 Z M409.8,109.6 V112.6 A3,3 0 0 1 406.8,109.6 Z" fill="#111"/>
<text x="518.1" y="151" font-size="13.8" fill="#111" text-anchor="middle">Step Cycle</text>
</svg></div></body></html>
